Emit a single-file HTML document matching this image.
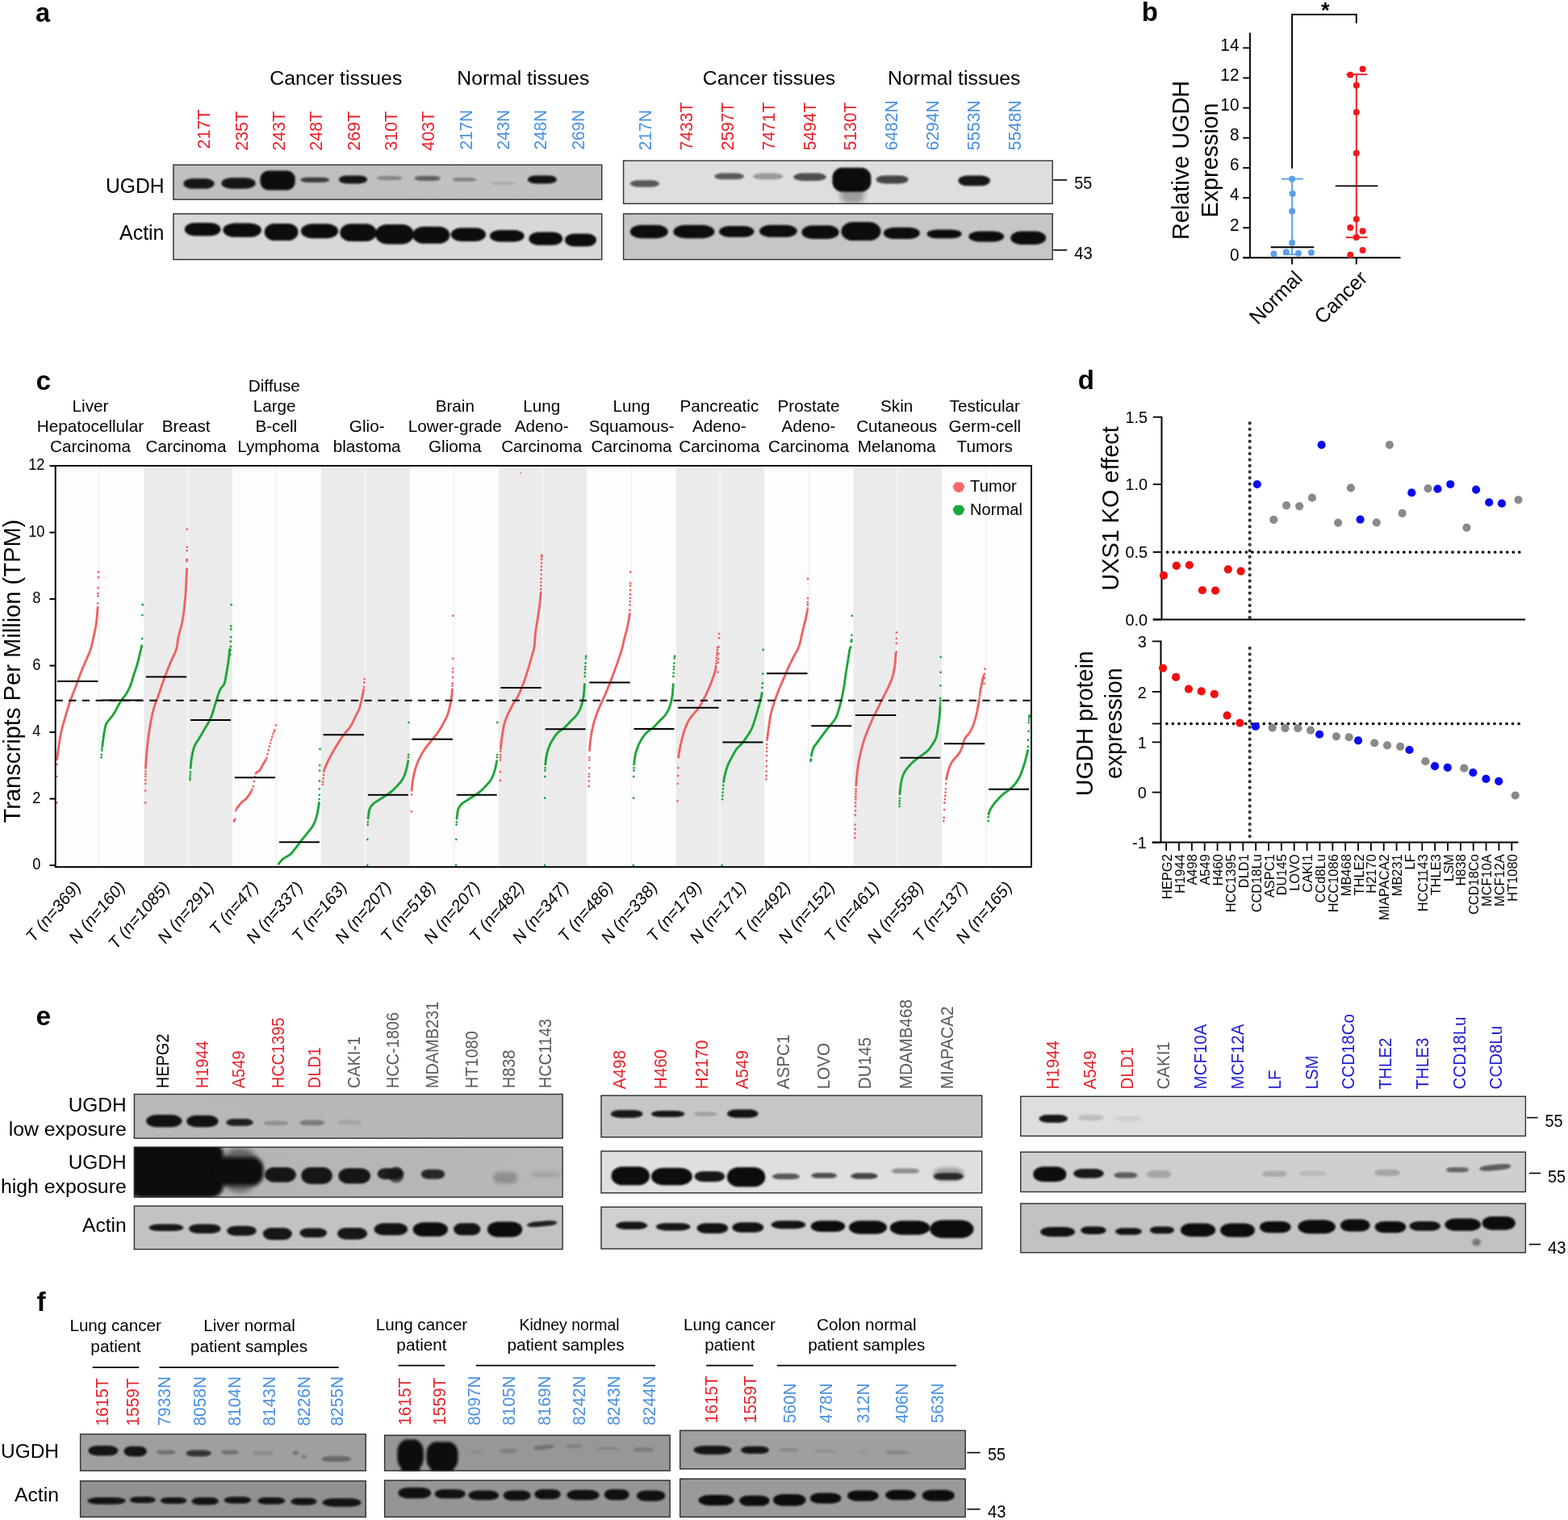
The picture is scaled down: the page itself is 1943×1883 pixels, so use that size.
<!DOCTYPE html>
<html lang="en"><head><meta charset="utf-8"><title>UGDH expression in cancer and normal tissues</title>
<style>html,body{margin:0;padding:0;background:#fff}body{width:1943px;height:1883px;overflow:hidden}svg{display:block}text{font-family:"Liberation Sans",sans-serif}</style>
</head><body>
<svg width="1943" height="1883" viewBox="0 0 1943 1883">
<defs><clipPath id="c1"><rect x="214.4" y="203.8" width="531.8" height="43.8"/></clipPath><linearGradient id="g2" x1="0" x2="1" y1="0" y2="0"><stop offset="0" stop-color="#bfbfbf"/><stop offset="1" stop-color="#c1c1c1"/></linearGradient><clipPath id="c3"><rect x="214.4" y="264.4" width="531.8" height="57.6"/></clipPath><clipPath id="c4"><rect x="772.1" y="198.6" width="532.6" height="54.2"/></clipPath><clipPath id="c5"><rect x="772.1" y="264.4" width="532.6" height="57.6"/></clipPath><clipPath id="c6"><rect x="165.9" y="1355" width="531.7" height="55.6"/></clipPath><linearGradient id="g7" x1="0" x2="1" y1="0" y2="0"><stop offset="0" stop-color="#b8b8b8"/><stop offset="1" stop-color="#b6b6b6"/></linearGradient><clipPath id="c8"><rect x="165.9" y="1420.7" width="531.7" height="62.8"/></clipPath><linearGradient id="g9" x1="0" x2="1" y1="0" y2="0"><stop offset="0" stop-color="#b4b4b4"/><stop offset="1" stop-color="#b8b8b8"/></linearGradient><clipPath id="c10"><rect x="165.9" y="1493.6" width="531.7" height="54.5"/></clipPath><clipPath id="c11"><rect x="744.5" y="1356.7" width="472.7" height="52.5"/></clipPath><clipPath id="c12"><rect x="744.5" y="1425.6" width="472.7" height="52.7"/></clipPath><clipPath id="c13"><rect x="744.5" y="1494.8" width="472.7" height="52.7"/></clipPath><clipPath id="c14"><rect x="1264.3" y="1357.8" width="626.6" height="50"/></clipPath><clipPath id="c15"><rect x="1264.3" y="1426.7" width="626.6" height="50.3"/></clipPath><clipPath id="c16"><rect x="1264.3" y="1490.5" width="626.6" height="61.7"/></clipPath><clipPath id="c17"><rect x="99.1" y="1776.1" width="354.6" height="46.3"/></clipPath><clipPath id="c18"><rect x="99.1" y="1834.1" width="354.6" height="45.7"/></clipPath><clipPath id="c19"><rect x="476.1" y="1777.6" width="354.5" height="44.8"/></clipPath><clipPath id="c20"><rect x="476.1" y="1833.5" width="354.5" height="46.3"/></clipPath><clipPath id="c21"><rect x="842.2" y="1771.7" width="354.5" height="48.5"/></clipPath><clipPath id="c22"><rect x="842.2" y="1831.6" width="354.5" height="48.2"/></clipPath><filter id="b1_1" x="-30%" y="-60%" width="160%" height="220%"><feGaussianBlur stdDeviation="1.1"/></filter><filter id="b1_5" x="-30%" y="-60%" width="160%" height="220%"><feGaussianBlur stdDeviation="1.5"/></filter><filter id="b1_8" x="-30%" y="-60%" width="160%" height="220%"><feGaussianBlur stdDeviation="1.8"/></filter><filter id="b2" x="-30%" y="-60%" width="160%" height="220%"><feGaussianBlur stdDeviation="2"/></filter><filter id="b2_2" x="-30%" y="-60%" width="160%" height="220%"><feGaussianBlur stdDeviation="2.2"/></filter><filter id="b2_5" x="-30%" y="-60%" width="160%" height="220%"><feGaussianBlur stdDeviation="2.5"/></filter><filter id="b3" x="-30%" y="-60%" width="160%" height="220%"><feGaussianBlur stdDeviation="3"/></filter></defs>
<rect width="1943" height="1883" fill="#fff"/>
<g id="panel-a">
<text x="44" y="26.8" font-size="32.5" font-weight="bold">a</text>
<text x="334.3" y="105.2" font-size="24.6" textLength="164" lengthAdjust="spacingAndGlyphs">Cancer tissues</text>
<text x="566.3" y="105.2" font-size="24.6" textLength="164" lengthAdjust="spacingAndGlyphs">Normal tissues</text>
<text x="870.75" y="105.2" font-size="24.6" textLength="164.5" lengthAdjust="spacingAndGlyphs">Cancer tissues</text>
<text x="1100.05" y="105.2" font-size="24.6" textLength="164.5" lengthAdjust="spacingAndGlyphs">Normal tissues</text>
<text transform="translate(260.4 184.5) rotate(-90)" font-size="22.4" fill="#e8212b" textLength="49.02" lengthAdjust="spacingAndGlyphs">217T</text>
<text transform="translate(306.72 186.8) rotate(-90)" font-size="22.4" fill="#e8212b" textLength="49.02" lengthAdjust="spacingAndGlyphs">235T</text>
<text transform="translate(353.04 186.8) rotate(-90)" font-size="22.4" fill="#e8212b" textLength="49.02" lengthAdjust="spacingAndGlyphs">243T</text>
<text transform="translate(399.36 186.8) rotate(-90)" font-size="22.4" fill="#e8212b" textLength="49.02" lengthAdjust="spacingAndGlyphs">248T</text>
<text transform="translate(445.68 186.8) rotate(-90)" font-size="22.4" fill="#e8212b" textLength="49.02" lengthAdjust="spacingAndGlyphs">269T</text>
<text transform="translate(492 186.8) rotate(-90)" font-size="22.4" fill="#e8212b" textLength="49.02" lengthAdjust="spacingAndGlyphs">310T</text>
<text transform="translate(538.32 186.8) rotate(-90)" font-size="22.4" fill="#e8212b" textLength="49.02" lengthAdjust="spacingAndGlyphs">403T</text>
<text transform="translate(584.64 185.6) rotate(-90)" font-size="22.4" fill="#4a90e2" textLength="49.54" lengthAdjust="spacingAndGlyphs">217N</text>
<text transform="translate(630.96 185.6) rotate(-90)" font-size="22.4" fill="#4a90e2" textLength="49.54" lengthAdjust="spacingAndGlyphs">243N</text>
<text transform="translate(677.28 185.6) rotate(-90)" font-size="22.4" fill="#4a90e2" textLength="49.54" lengthAdjust="spacingAndGlyphs">248N</text>
<text transform="translate(723.6 185.6) rotate(-90)" font-size="22.4" fill="#4a90e2" textLength="49.54" lengthAdjust="spacingAndGlyphs">269N</text>
<text transform="translate(806.7 186.2) rotate(-90)" font-size="22.4" fill="#4a90e2" textLength="50.07" lengthAdjust="spacingAndGlyphs">217N</text>
<text transform="translate(857.65 186.2) rotate(-90)" font-size="22.4" fill="#e8212b" textLength="59.39" lengthAdjust="spacingAndGlyphs">7433T</text>
<text transform="translate(908.6 186.2) rotate(-90)" font-size="22.4" fill="#e8212b" textLength="59.39" lengthAdjust="spacingAndGlyphs">2597T</text>
<text transform="translate(959.55 186.2) rotate(-90)" font-size="22.4" fill="#e8212b" textLength="59.39" lengthAdjust="spacingAndGlyphs">7471T</text>
<text transform="translate(1010.5 186.2) rotate(-90)" font-size="22.4" fill="#e8212b" textLength="59.39" lengthAdjust="spacingAndGlyphs">5494T</text>
<text transform="translate(1061.45 186.2) rotate(-90)" font-size="22.4" fill="#e8212b" textLength="59.39" lengthAdjust="spacingAndGlyphs">5130T</text>
<text transform="translate(1112.4 186.2) rotate(-90)" font-size="22.4" fill="#4a90e2" textLength="61.72" lengthAdjust="spacingAndGlyphs">6482N</text>
<text transform="translate(1163.35 186.2) rotate(-90)" font-size="22.4" fill="#4a90e2" textLength="61.72" lengthAdjust="spacingAndGlyphs">6294N</text>
<text transform="translate(1214.3 186.2) rotate(-90)" font-size="22.4" fill="#4a90e2" textLength="61.72" lengthAdjust="spacingAndGlyphs">5553N</text>
<text transform="translate(1265.25 186.2) rotate(-90)" font-size="22.4" fill="#4a90e2" textLength="61.72" lengthAdjust="spacingAndGlyphs">5548N</text>
<text x="131" y="238.8" font-size="25.5" textLength="72.5" lengthAdjust="spacingAndGlyphs">UGDH</text>
<text x="148" y="297.3" font-size="25.5" textLength="55.5" lengthAdjust="spacingAndGlyphs">Actin</text>
<rect x="214.4" y="203.8" width="531.8" height="43.8" fill="url(#g2)"/>
<g clip-path="url(#c1)">
<g filter="url(#b1_1)">
<rect x="227.38" y="221.13" width="38.33" height="12.68" rx="11.5" ry="6.34" fill="#0a0a0a" opacity="0.95"/>
<rect x="274.36" y="220.26" width="42.37" height="13.55" rx="12.71" ry="6.77" fill="#0a0a0a" opacity="0.95"/>
<rect x="322.49" y="211.62" width="43.23" height="23.92" rx="10" ry="10" fill="#0a0a0a"/>
<rect x="372.35" y="219.69" width="35.74" height="6.34" rx="10.72" ry="3.17" fill="#0a0a0a" opacity="0.75"/>
<rect x="419.91" y="217.38" width="35.16" height="10.09" rx="10.55" ry="5.04" fill="#0a0a0a" opacity="0.95"/>
<rect x="466.6" y="217.96" width="31.7" height="5.19" rx="9.51" ry="2.59" fill="#0a0a0a" opacity="0.3"/>
<rect x="513.58" y="217.96" width="32.28" height="6.05" rx="9.68" ry="3.03" fill="#0a0a0a" opacity="0.5"/>
<rect x="560.27" y="220.26" width="30.26" height="4.32" rx="9.08" ry="2.16" fill="#0a0a0a" opacity="0.35"/>
<rect x="607.82" y="225.16" width="31.7" height="3.75" rx="9.51" ry="1.87" fill="#0a0a0a" opacity="0.12"/>
<rect x="653.94" y="217.38" width="36.03" height="10.09" rx="10.81" ry="5.04" fill="#0a0a0a" opacity="0.97"/>
</g>
</g>
<rect x="214.9" y="204.3" width="530.8" height="42.8" fill="none" stroke="#303030" stroke-width="1.4"/>
<rect x="214.4" y="264.4" width="531.8" height="57.6" fill="#d8d8d8"/>
<g clip-path="url(#c3)">
<g filter="url(#b1_1)">
<rect x="228.82" y="275.89" width="44.67" height="16.43" rx="13.4" ry="8.21" fill="#0a0a0a"/>
<rect x="276.38" y="276.46" width="47.56" height="17.29" rx="14.27" ry="8.65" fill="#0a0a0a"/>
<rect x="327.68" y="277.04" width="41.79" height="21.04" rx="12.54" ry="10.52" fill="#0a0a0a"/>
<rect x="372.93" y="277.33" width="46.11" height="17.87" rx="13.83" ry="8.93" fill="#0a0a0a"/>
<rect x="421.35" y="277.33" width="45.25" height="21.62" rx="13.57" ry="10.81" fill="#0a0a0a"/>
<rect x="465.16" y="277.91" width="47.56" height="24.5" rx="14.27" ry="12.25" fill="#0a0a0a"/>
<rect x="511.27" y="280.79" width="46.11" height="21.04" rx="13.83" ry="10.52" fill="#0a0a0a"/>
<rect x="558.83" y="282.23" width="43.23" height="16.72" rx="12.97" ry="8.36" fill="#0a0a0a"/>
<rect x="606.96" y="285.11" width="42.66" height="14.41" rx="12.8" ry="7.21" fill="#0a0a0a"/>
<rect x="655.38" y="287.42" width="41.79" height="16.43" rx="12.54" ry="8.21" fill="#0a0a0a"/>
<rect x="700.05" y="289.43" width="38.91" height="15.85" rx="11.67" ry="7.93" fill="#0a0a0a"/>
</g>
</g>
<rect x="214.9" y="264.9" width="530.8" height="56.6" fill="none" stroke="#303030" stroke-width="1.4"/>
<rect x="772.1" y="198.6" width="532.6" height="54.2" fill="#dedede"/>
<g clip-path="url(#c4)">
<g filter="url(#b1_1)">
<rect x="780.75" y="223.14" width="36.31" height="8.65" rx="10.89" ry="4.32" fill="#0a0a0a" opacity="0.6"/>
<rect x="885.37" y="214.5" width="36.6" height="7.78" rx="10.98" ry="3.89" fill="#0a0a0a" opacity="0.65"/>
<rect x="932.93" y="214.5" width="37.47" height="7.78" rx="11.24" ry="3.89" fill="#0a0a0a" opacity="0.3"/>
<rect x="983.37" y="214.5" width="40.35" height="9.51" rx="12.1" ry="4.76" fill="#0a0a0a" opacity="0.7"/>
<rect x="1031.5" y="207.87" width="47.84" height="29.69" rx="12" ry="12" fill="#0a0a0a"/>
<rect x="1085.68" y="217.38" width="39.77" height="10.09" rx="11.93" ry="5.04" fill="#0a0a0a" opacity="0.75"/>
<rect x="1187.42" y="217.38" width="39.49" height="12.97" rx="11.85" ry="6.48" fill="#0a0a0a" opacity="0.95"/>
</g>
<g filter="url(#b3)">
<rect x="1041.01" y="230.35" width="30.26" height="21.62" rx="10.81" ry="10.81" fill="#0a0a0a" opacity="0.3"/>
</g>
</g>
<rect x="772.6" y="199.1" width="531.6" height="53.2" fill="none" stroke="#303030" stroke-width="1.4"/>
<rect x="772.1" y="264.4" width="532.6" height="57.6" fill="#c6c6c6"/>
<g clip-path="url(#c5)">
<g filter="url(#b1_1)">
<rect x="780.75" y="278.77" width="46.98" height="16.43" rx="14.09" ry="8.21" fill="#0a0a0a"/>
<rect x="834.36" y="278.77" width="51.01" height="16.43" rx="15.3" ry="8.21" fill="#0a0a0a"/>
<rect x="891.14" y="279.92" width="43.23" height="13.83" rx="12.97" ry="6.92" fill="#0a0a0a"/>
<rect x="941" y="278.77" width="46.69" height="14.99" rx="14.01" ry="7.49" fill="#0a0a0a"/>
<rect x="993.45" y="279.35" width="46.11" height="16.72" rx="13.83" ry="8.36" fill="#0a0a0a"/>
<rect x="1042.45" y="275.02" width="49" height="23.06" rx="14.7" ry="11.53" fill="#0a0a0a"/>
<rect x="1094.9" y="281.65" width="44.96" height="14.41" rx="13.49" ry="7.21" fill="#0a0a0a"/>
<rect x="1148.51" y="284.53" width="43.23" height="10.66" rx="12.97" ry="5.33" fill="#0a0a0a"/>
<rect x="1200.39" y="286.55" width="43.81" height="12.97" rx="13.14" ry="6.48" fill="#0a0a0a"/>
<rect x="1252.27" y="286.55" width="43.81" height="16.43" rx="13.14" ry="8.21" fill="#0a0a0a"/>
</g>
</g>
<rect x="772.6" y="264.9" width="531.6" height="56.6" fill="none" stroke="#303030" stroke-width="1.4"/>
<line x1="1305.2" y1="223" x2="1322.2" y2="223" stroke="#000" stroke-width="1.6"/>
<text x="1331.2" y="234.2" font-size="21.5" textLength="22" lengthAdjust="spacingAndGlyphs">55</text>
<line x1="1305.2" y1="309.8" x2="1322.2" y2="309.8" stroke="#000" stroke-width="1.6"/>
<text x="1331.2" y="320.8" font-size="21.5" textLength="22.5" lengthAdjust="spacingAndGlyphs">43</text>
</g>
<g id="panel-b">
<text x="1414.8" y="26" font-size="33" font-weight="bold">b</text>
<path d="M1601.09 208.63 V17.97 H1680.77 V28.98" fill="none" stroke="#000" stroke-width="1.9"/>
<text x="1636.98" y="22.07" font-size="27" font-weight="bold">*</text>
<line x1="1548.93" y1="40.57" x2="1548.93" y2="320.11" stroke="#000" stroke-width="1.9"/>
<line x1="1540.24" y1="319.31" x2="1735.53" y2="319.31" stroke="#000" stroke-width="1.9"/>
<line x1="1540.24" y1="319.31" x2="1548.93" y2="319.31" stroke="#000" stroke-width="1.9"/>
<text x="1523.89" y="322.71" font-size="21.2" textLength="11.56" lengthAdjust="spacingAndGlyphs">0</text>
<line x1="1540.24" y1="282.18" x2="1548.93" y2="282.18" stroke="#000" stroke-width="1.9"/>
<text x="1523.89" y="285.58" font-size="21.2" textLength="11.56" lengthAdjust="spacingAndGlyphs">2</text>
<line x1="1540.24" y1="245.05" x2="1548.93" y2="245.05" stroke="#000" stroke-width="1.9"/>
<text x="1523.89" y="248.45" font-size="21.2" textLength="11.56" lengthAdjust="spacingAndGlyphs">4</text>
<line x1="1540.24" y1="207.92" x2="1548.93" y2="207.92" stroke="#000" stroke-width="1.9"/>
<text x="1523.89" y="211.32" font-size="21.2" textLength="11.56" lengthAdjust="spacingAndGlyphs">6</text>
<line x1="1540.24" y1="170.78" x2="1548.93" y2="170.78" stroke="#000" stroke-width="1.9"/>
<text x="1523.89" y="174.18" font-size="21.2" textLength="11.56" lengthAdjust="spacingAndGlyphs">8</text>
<line x1="1540.24" y1="133.65" x2="1548.93" y2="133.65" stroke="#000" stroke-width="1.9"/>
<text x="1512.34" y="137.05" font-size="21.2" textLength="23.11" lengthAdjust="spacingAndGlyphs">10</text>
<line x1="1540.24" y1="96.52" x2="1548.93" y2="96.52" stroke="#000" stroke-width="1.9"/>
<text x="1512.34" y="99.92" font-size="21.2" textLength="23.11" lengthAdjust="spacingAndGlyphs">12</text>
<line x1="1540.24" y1="59.39" x2="1548.93" y2="59.39" stroke="#000" stroke-width="1.9"/>
<text x="1512.34" y="62.79" font-size="21.2" textLength="23.11" lengthAdjust="spacingAndGlyphs">14</text>
<line x1="1601.09" y1="319.31" x2="1601.09" y2="327.43" stroke="#000" stroke-width="1.9"/>
<line x1="1680.77" y1="319.31" x2="1680.77" y2="327.43" stroke="#000" stroke-width="1.9"/>
<text transform="translate(1473.3 198.48) rotate(-90)" x="-98.5" font-size="30.3" textLength="197" lengthAdjust="spacingAndGlyphs">Relative UGDH</text>
<text transform="translate(1508.94 198.48) rotate(-90)" x="-71" font-size="30.3" textLength="142" lengthAdjust="spacingAndGlyphs">Expression</text>
<line x1="1601.09" y1="221.66" x2="1601.09" y2="315.26" stroke="#5b9fe8" stroke-width="1.9"/>
<line x1="1588.05" y1="221.66" x2="1614.7" y2="221.66" stroke="#5b9fe8" stroke-width="1.9"/>
<line x1="1590.07" y1="315.26" x2="1611.81" y2="315.26" stroke="#5b9fe8" stroke-width="1.9"/>
<circle cx="1601.09" cy="221.66" r="4" fill="#5b9fe8"/>
<circle cx="1601.66" cy="239.92" r="4" fill="#5b9fe8"/>
<circle cx="1601.09" cy="261.65" r="4" fill="#5b9fe8"/>
<circle cx="1601.09" cy="300.77" r="4" fill="#5b9fe8"/>
<circle cx="1578.48" cy="314.39" r="4" fill="#5b9fe8"/>
<circle cx="1593.84" cy="312.36" r="4" fill="#5b9fe8"/>
<circle cx="1608.91" cy="313.81" r="4" fill="#5b9fe8"/>
<circle cx="1624.85" cy="312.94" r="4" fill="#5b9fe8"/>
<line x1="1574.72" y1="306.27" x2="1628.32" y2="306.27" stroke="#000" stroke-width="1.9"/>
<line x1="1680.77" y1="92.14" x2="1680.77" y2="294.1" stroke="#ef1a1f" stroke-width="1.9"/>
<line x1="1668.31" y1="92.14" x2="1694.39" y2="92.14" stroke="#ef1a1f" stroke-width="1.9"/>
<line x1="1667.73" y1="294.1" x2="1694.39" y2="294.1" stroke="#ef1a1f" stroke-width="1.9"/>
<circle cx="1673.24" cy="92.72" r="4" fill="#ef1a1f"/>
<circle cx="1688.59" cy="85.48" r="4" fill="#ef1a1f"/>
<circle cx="1680.77" cy="105.76" r="4" fill="#ef1a1f"/>
<circle cx="1680.77" cy="139.08" r="4" fill="#ef1a1f"/>
<circle cx="1680.77" cy="189.79" r="4" fill="#ef1a1f"/>
<circle cx="1680.77" cy="271.5" r="4" fill="#ef1a1f"/>
<circle cx="1673.24" cy="281.93" r="4" fill="#ef1a1f"/>
<circle cx="1688.59" cy="286.28" r="4" fill="#ef1a1f"/>
<circle cx="1680.77" cy="294.1" r="4" fill="#ef1a1f"/>
<circle cx="1688.59" cy="310.04" r="4" fill="#ef1a1f"/>
<circle cx="1673.24" cy="315.84" r="4" fill="#ef1a1f"/>
<line x1="1654.69" y1="230.36" x2="1707.43" y2="230.36" stroke="#000" stroke-width="1.9"/>
<text transform="translate(1615.32 346.41) rotate(-45)" x="-80.31" font-size="25.3" textLength="80.31" lengthAdjust="spacingAndGlyphs">Normal</text>
<text transform="translate(1695.79 346.01) rotate(-45)" x="-80.34" font-size="25.3" textLength="80.34" lengthAdjust="spacingAndGlyphs">Cancer</text>
</g>
<g id="panel-c">
<text x="44.5" y="482.7" font-size="33.5" font-weight="bold">c</text>
<rect x="68.3" y="577" width="109.9" height="497" fill="#fdfdfd"/>
<rect x="121.5" y="577" width="2.6" height="497" fill="#f4f4f4"/>
<rect x="178.2" y="577" width="109.9" height="497" fill="#ebebeb"/>
<rect x="231.4" y="577" width="2.6" height="497" fill="#f3f3f3"/>
<rect x="288.1" y="577" width="109.9" height="497" fill="#fdfdfd"/>
<rect x="341.3" y="577" width="2.6" height="497" fill="#f4f4f4"/>
<rect x="398" y="577" width="109.9" height="497" fill="#ebebeb"/>
<rect x="451.2" y="577" width="2.6" height="497" fill="#f3f3f3"/>
<rect x="507.9" y="577" width="109.9" height="497" fill="#fdfdfd"/>
<rect x="561.1" y="577" width="2.6" height="497" fill="#f4f4f4"/>
<rect x="617.8" y="577" width="109.9" height="497" fill="#ebebeb"/>
<rect x="671" y="577" width="2.6" height="497" fill="#f3f3f3"/>
<rect x="727.7" y="577" width="109.9" height="497" fill="#fdfdfd"/>
<rect x="780.9" y="577" width="2.6" height="497" fill="#f4f4f4"/>
<rect x="837.6" y="577" width="109.9" height="497" fill="#ebebeb"/>
<rect x="890.8" y="577" width="2.6" height="497" fill="#f3f3f3"/>
<rect x="947.5" y="577" width="109.9" height="497" fill="#fdfdfd"/>
<rect x="1000.7" y="577" width="2.6" height="497" fill="#f4f4f4"/>
<rect x="1057.4" y="577" width="109.9" height="497" fill="#ebebeb"/>
<rect x="1110.6" y="577" width="2.6" height="497" fill="#f3f3f3"/>
<rect x="1167.3" y="577" width="109.9" height="497" fill="#fdfdfd"/>
<rect x="1220.5" y="577" width="2.6" height="497" fill="#f4f4f4"/>
<path d="M70.7 940.5L70.9 939.3L71 938.2L71.1 937.1L71.3 935.9L71.4 934.8L71.6 933.7L71.7 932.6L71.8 931.6L72 930.5L72.1 929.5L72.3 928.5L72.5 926.5L72.8 924.6L73.1 922.7L73.4 920.8L73.7 918.9L73.9 917.1L74.2 915.3L74.5 913.6L74.8 912L75.1 910.5L75.3 909L75.6 907.7L75.9 906.4L76.2 905.2L76.5 904L76.8 902.8L77 901.7L77.3 900.6L77.6 899.6L77.9 898.6L78.2 897.6L78.4 896.6L78.7 895.6L79.1 894.2L79.6 892.8L80 891.4L80.4 890L80.7 889L81 888L81.2 887.1L81.5 886.1L81.8 885.1L82.1 884.2L82.4 883.2L82.8 881.8L83.2 880.3L83.6 878.9L84 877.5L84.5 876.2L84.9 874.8L85.3 873.5L85.7 872.1L86.1 870.9L86.6 869.6L87 868.4L87.4 867.2L87.8 866L88.2 864.9L88.7 863.8L89.1 862.7L89.5 861.6L89.9 860.5L90.4 859.5L90.8 858.5L91.2 857.4L91.6 856.4L92 855.3L92.5 854.3L92.9 853.2L93.3 852.1L93.7 851L94.1 849.8L94.6 848.7L95 847.5L95.4 846.3L95.8 845.1L96.2 843.9L96.7 842.8L97.1 841.6L97.5 840.4L97.9 839.2L98.3 838.1L98.8 837L99.2 835.8L99.6 834.7L100 833.7L100.4 832.6L100.9 831.6L101.3 830.5L101.7 829.5L102.1 828.5L102.6 827.5L103 826.5L103.4 825.5L103.8 824.5L104.2 823.5L104.7 822.6L105.1 821.6L105.5 820.6L105.9 819.6L106.3 818.6L106.8 817.6L107.2 816.7L107.6 815.7L108 814.8L108.4 813.9L108.9 813L109.3 812L109.7 811.1L110.1 810.1L110.5 809.1L111 808L111.4 806.8L111.8 805.7L112.2 804.4L112.6 803L112.9 802.1L113.2 801.1L113.5 800L113.8 798.9L114 797.8L114.3 796.6L114.6 795.4L114.9 794.2L115.2 792.9L115.5 791.6L115.7 790.3L116 789L116.3 787.7L116.6 786.4L116.9 785.1L117.1 783.8L117.4 782.5L117.7 781.2L118 779.8L118.3 778.3L118.5 776.8L118.8 775.1L119.1 773.3L119.4 771.3L119.5 770.3L119.7 769.2L119.8 767.9L119.9 766.5L120.1 765L120.2 763.4L120.4 761.7L120.5 760L120.6 758.1L120.8 756.2L120.9 754.3L121.1 752.4" fill="none" stroke="#ee6363" stroke-width="2.9" stroke-linecap="round" stroke-linejoin="round"/>
<path d="M70.3 994.5h0M70.4 962.1h0M70.6 947h0M121.2 747.6h0M121.3 738.4h0M121.5 735.1h0M121.6 728.2h0M121.8 715.2h0M121.9 708.7h0" fill="none" stroke="#ee6363" stroke-width="2.8" stroke-linecap="round"/>
<path d="M126.8 924.3L127.1 921.7L127.4 919.2L127.8 916.7L128.1 914.3L128.4 912L128.7 910L129 908.1L129.4 906.2L129.7 904.4L130 902.7L130.3 901.2L130.7 899.7L131 898.5L131.3 897.6L131.9 896.2L132.6 895.3L133.2 894.4L133.9 893.5L134.5 892.7L135.2 891.8L135.8 891L136.4 890.2L137.1 889.4L137.7 888.6L138.4 887.8L139 887L139.7 886.1L140.3 885.2L141 884.2L141.6 883.2L142.2 882.1L142.9 881L143.5 879.8L144.2 878.6L144.8 877.4L145.5 876.1L146.1 874.9L146.8 873.7L147.4 872.5L148 871.3L148.7 870.2L149.3 869.2L150 868.3L150.6 867.4L151.3 866.5L151.9 865.7L152.5 864.8L153.2 864L153.8 863.2L154.5 862.3L155.1 861.4L155.8 860.4L156.4 859.4L157.1 858.3L157.7 857.2L158.3 856.1L159 854.9L159.6 853.7L160.3 852.3L160.9 850.9L161.6 849.3L162.2 847.5L162.5 846.6L162.9 845.6L163.2 844.6L163.5 843.5L163.8 842.5L164.1 841.4L164.5 840.3L164.8 839.3L165.1 838.2L165.4 837.2L165.8 836.1L166.1 835.1L166.4 834.1L166.7 833.1L167 832.2L167.7 830.3L168.3 828.4L168.6 827.4L169 826.5L169.3 825.5L169.6 824.5L169.9 823.4L170.3 822.3L170.6 821.2L170.9 820L171.2 818.7L171.5 817.4L171.9 816.1L172.2 814.7L172.5 813.3L172.8 812L173.2 810.6L173.5 809.2L173.8 807.9L174.1 806.6L174.4 805.3L174.8 803.9L175.1 802.6L175.4 801.3L175.7 800" fill="none" stroke="#1da53a" stroke-width="2.9" stroke-linecap="round" stroke-linejoin="round"/>
<path d="M125.5 938.3h0M125.8 935.1h0M126.1 929.7h0M126.5 927h0M176.1 791.3h0M176.4 762.1h0M176.7 749.2h0" fill="none" stroke="#1da53a" stroke-width="2.8" stroke-linecap="round"/>
<path d="M180.5 951.3L180.6 949.7L180.7 948.2L180.8 946.6L180.9 945.1L181 943.6L181.1 942.1L181.2 940.6L181.3 939.2L181.4 937.8L181.5 936.4L181.6 935.1L181.7 933.8L181.8 932.6L181.9 931.5L182 930.4L182.1 929.3L182.2 928.3L182.3 926.8L182.4 925.4L182.6 924L182.7 922.6L182.9 921.3L183 920L183.2 918.8L183.3 917.5L183.4 916.4L183.6 915.2L183.7 914.1L183.9 913L184 911.9L184.2 910.9L184.3 909.8L184.4 908.8L184.6 907.5L184.8 906.3L185 905L185.2 903.8L185.4 902.7L185.6 901.5L185.8 900.4L186 899.2L186.2 898.1L186.3 897.1L186.5 896L186.7 894.9L186.9 893.9L187.1 892.9L187.3 891.9L187.5 890.7L187.8 889.5L188 888.4L188.2 887.2L188.5 886.1L188.7 885.1L189 884L189.2 883L189.4 882L189.7 880.9L190 879.8L190.3 878.7L190.6 877.6L190.9 876.6L191.2 875.5L191.5 874.5L191.9 873.5L192.2 872.5L192.6 871.4L193 870.4L193.3 869.4L193.7 868.4L194.1 867.4L194.5 866.4L194.9 865.4L195.2 864.4L195.6 863.3L196 862.4L196.3 861.4L196.6 860.4L197 859.4L197.3 858.5L197.6 857.5L198 856.5L198.3 855.5L198.6 854.5L199 853.5L199.3 852.5L199.6 851.6L200 850.6L200.3 849.6L200.6 848.6L201 847.6L201.3 846.7L201.6 845.7L202 844.8L202.3 843.7L202.7 842.6L203.1 841.6L203.5 840.5L203.9 839.5L204.2 838.5L204.6 837.5L205 836.5L205.4 835.5L205.8 834.5L206.1 833.6L206.5 832.6L206.9 831.6L207.3 830.7L207.7 829.7L208 828.8L208.4 827.8L208.8 826.9L209.2 825.9L209.6 825L210 824L210.3 823.1L210.7 822.1L211.1 821.2L211.5 820.2L211.9 819.3L212.3 818.3L212.7 817.3L213.2 816.3L213.7 815.4L214.1 814.5L214.6 813.6L215.1 812.7L215.6 811.7L216 810.7L216.5 809.7L216.9 808.7L217.3 807.7L217.7 806.6L218 805.6L218.3 804.5L218.6 803.5L218.9 802.4L219.2 801.3L219.4 800L219.6 799L219.7 797.9L219.9 796.7L220 795.6L220.1 794.5L220.3 793.3L220.5 792.2L220.7 791.2L220.9 790L221.2 788.8L221.4 787.7L221.7 786.7L221.9 785.7L222.2 784.5L222.5 783.4L222.8 782.3L223 781.3L223.3 780.2L223.6 779.2L223.9 778.2L224.2 777.1L224.5 776L224.8 774.9L225 773.9L225.2 772.8L225.5 771.8L225.7 770.6L225.9 769.4L226.1 768.4L226.3 767.4L226.5 766.3L226.7 765.2L226.9 764L227.1 762.7L227.3 761.5L227.4 760.5L227.6 759.4L227.7 758.4L227.8 757.3L228 756.2L228.1 755L228.3 753.8L228.4 752.5L228.6 751.2L228.7 749.9L228.8 748.5L229 747.1L229.1 745.6L229.2 744.6L229.3 743.6L229.4 742.5L229.5 741.4L229.6 740.3L229.7 739.2L229.8 738L229.9 736.8L230 735.6L230.1 734.2L230.2 732.7L230.3 731.2L230.4 729.6L230.5 727.9L230.6 726.1L230.7 724.3L230.8 722.4L230.8 720.5L230.9 718.5L231 717.5L231 716.5L231.1 715.4L231.1 714.4L231.2 713.4L231.2 712.3L231.3 711.3L231.3 710.2L231.4 709.1L231.4 708.1L231.5 707L231.5 705.9L231.6 704.8M231.6 695.1L231.7 693" fill="none" stroke="#ee6363" stroke-width="2.9" stroke-linecap="round" stroke-linejoin="round"/>
<path d="M180.2 994.5h0M180.2 979.4h0M180.3 970.8h0M180.3 966.4h0M180.4 962.1h0M180.4 958.9h0M180.5 955.6h0M231.7 682.2h0M231.8 677.8h0M231.8 655.6h0" fill="none" stroke="#ee6363" stroke-width="2.8" stroke-linecap="round"/>
<path d="M236.1 951.3L236.3 949.5L236.5 947.7L236.6 945.9L236.8 944.2L237 942.6L237.2 941.1L237.3 939.8L237.5 938.6L237.7 937.6L237.9 936.6L238.2 934.7L238.6 932.9L238.9 931.3L239.3 929.9L239.6 928.6L240 927.4L240.3 926.3L240.7 925.3L241.2 924.1L241.8 922.9L242.3 921.9L242.8 920.9L243.3 920L244.1 918.9L244.8 917.9L245.5 916.9L246.2 915.8L246.7 914.9L247.2 914L247.8 913.1L248.3 912.2L248.8 911.3L249.3 910.4L249.9 909.5L250.4 908.6L250.9 907.6L251.5 906.7L252 905.8L252.5 904.9L253.1 903.9L253.6 903L254.1 902.1L254.6 901.2L255.2 900.3L255.7 899.5L256.2 898.6L256.8 897.7L257.3 896.8L257.8 895.9L258.4 895L258.9 894L259.4 893L259.9 892L260.5 890.9L261 889.7L261.5 888.5L262.1 887.2L262.4 886.2L262.8 885.2L263.1 884.2L263.5 883.1L263.8 882L264.2 880.8L264.5 879.7L264.9 878.5L265.2 877.3L265.6 876.1L265.9 874.9L266.3 873.7L266.6 872.5L267 871.4L267.4 870.3L267.7 869.2L268.1 868.1L268.4 867L268.8 865.9L269.1 864.7L269.5 863.6L269.8 862.5L270.2 861.3L270.5 860.2L270.9 859.2L271.2 858.1L271.6 857.2L272.1 855.8L272.7 854.6L273.2 853.6L273.9 852.5L274.6 851.6L275.3 850.8L276 850L276.7 849.1L277.4 847.9L277.9 846.9L278.5 845.4L278.8 844L279.2 842.3L279.5 840.5L279.7 839.4L279.9 838.4L280.1 837.3L280.2 836.3L280.4 835.2L280.6 834.1L280.8 833L281 831.9L281.1 830.9L281.3 829.9L281.5 828.9L281.7 827.9L281.8 826.8L282 825.8L282.2 824.8L282.4 823.7L282.5 822.6L282.7 821.5L282.9 820.3L283.1 819.1L283.2 817.8L283.4 816.4L283.6 814.7L283.8 812.6L284 810.5L284.1 808.5L284.3 806.7L284.5 805.3L284.8 804.3" fill="none" stroke="#1da53a" stroke-width="2.9" stroke-linecap="round" stroke-linejoin="round"/>
<path d="M235.4 966h0M235.6 963.2h0M235.8 960h0M235.9 956.7h0M285.4 810.8h0M285.5 805.4h0M285.7 801h0M285.9 794.6h0M286.1 789.2h0M286.2 779.4h0M286.4 775.7h0M286.6 749.2h0" fill="none" stroke="#1da53a" stroke-width="2.8" stroke-linecap="round"/>
<path d="M290.1 1017.2L291.2 1014.9M293.5 1001.5L294.6 1000L295.7 998.6L296.8 997L298 995.6L299.1 994.3L300.2 993.2L301.3 992.3L302.4 991.6L303.6 990.8L304.7 989.7L305.8 988.5L306.9 987.1L308 985.5L309.2 983.9L310.3 982.2L311.4 980.2M317 958.1L318.1 956.8L319.3 956.1L320.4 955.5L321.5 954.6L322.6 953.1L323.8 951.1L324.9 948.9L326 946.8L327.1 945L328.2 943.3L329.4 941.3" fill="none" stroke="#ee6363" stroke-width="2.9" stroke-linecap="round" stroke-linejoin="round"/>
<path d="M292.3 1004h0M312.5 977.6h0M313.7 974.1h0M314.8 967.9h0M315.9 962.2h0M330.5 938.6h0M331.6 934.1h0M332.7 929.4h0M333.8 924.8h0M335 920.6h0M336.1 916.6h0M337.2 913h0M338.3 909.6h0M339.5 906.7h0M340.6 904.3h0M341.7 898.4h0" fill="none" stroke="#ee6363" stroke-width="2.8" stroke-linecap="round"/>
<path d="M345.3 1070.2L346.1 1069.2L346.8 1068.3L347.6 1067.3L348.3 1066.5L349.1 1065.6L349.9 1064.8L350.6 1064.1L351.5 1063.4L352.5 1062.7L353.4 1062.2L354.3 1061.6L355.2 1061.2L356.1 1060.7L357 1060.2L357.9 1059.6L358.9 1059L359.8 1058.3L360.5 1057.6L361.3 1056.9L362.1 1056L362.8 1055.1L363.6 1054.2L364.3 1053.2L365.1 1052.2L365.9 1051.2L366.6 1050.3L367.4 1049.3L368 1048.5L368.6 1047.7L369.2 1046.8L369.8 1046L370.4 1045.2L371.1 1044.3L371.7 1043.5L372.3 1042.7L372.9 1041.9L373.6 1040.9L374.4 1040L375.2 1039L375.9 1038.1L376.7 1037.2L377.5 1036.2L378.2 1035.3L379 1034.3L379.7 1033.4L380.5 1032.4L381.3 1031.5L382 1030.5L382.8 1029.6L383.5 1028.7L384.3 1027.8L385.1 1026.8L385.7 1026L386.3 1025.2L386.9 1024.3L387.5 1023.3L388.1 1022.2L388.7 1021L389.2 1020.1L389.6 1019.1L390.1 1018L390.6 1016.8L391 1015.6L391.5 1014.2L391.8 1013.2L392.1 1012.2L392.4 1011.1L392.7 1009.9L393 1008.6L393.3 1007.1L393.6 1005.6L393.9 1003.9L394.2 1002.2L394.5 1000.3L394.8 998.5L395.1 996.5L395.4 994.5" fill="none" stroke="#1da53a" stroke-width="2.9" stroke-linecap="round" stroke-linejoin="round"/>
<path d="M395.6 990.2h0M395.7 984.8h0M395.9 977.3h0M396 967.5h0M396.2 954.6h0M396.3 948.1h0M396.5 928h0" fill="none" stroke="#1da53a" stroke-width="2.8" stroke-linecap="round"/>
<path d="M401.3 955.6L401.9 953.8L402.5 952L403.2 950.2L403.8 948.6L404.5 947.1L405.1 945.6L405.7 944.3L406.4 943L407 941.7L407.6 940.5L408.3 939.3L408.9 938.1L409.6 936.9L410.2 935.7L410.8 934.5L411.5 933.4L412.1 932.2L412.7 931.1L413.4 930L414 928.9L414.7 927.8L415.3 926.7L415.9 925.6L416.6 924.5L417.2 923.5L417.8 922.5L418.5 921.4L419.1 920.4L419.7 919.4L420.4 918.4L421 917.4L421.7 916.5L422.3 915.5L422.9 914.6L423.6 913.6L424.2 912.7L424.8 911.8L425.5 910.9L426.1 910L426.8 909.2L427.4 908.4L428.3 907.2L429.3 906.1L430.3 905L431.2 903.9L431.9 903.1L432.5 902.3L433.1 901.5L433.8 900.6L434.4 899.7L435 898.6L435.7 897.5L436.3 896.3L436.9 895L437.6 893.7L438.2 892.3L438.9 891L439.5 889.6L440.1 888.2L440.8 886.9L441.4 885.6L442 884.5L442.7 883.3L443.3 882.2L444 880.9L444.6 879.5L445.2 877.9L445.9 876L446.2 874.9L446.5 873.6L446.8 872.3L447.1 871L447.5 869.6L447.8 868.1L448.1 866.7L448.4 865.2L448.7 863.8L449.1 862.3L449.4 860.7L449.7 859.1L450 857.4L450.3 855.8L450.6 854" fill="none" stroke="#ee6363" stroke-width="2.9" stroke-linecap="round" stroke-linejoin="round"/>
<path d="M400 971.8h0M400.3 968.6h0M400.6 964.3h0M401 960h0M451 850.8h0M451.3 845.4h0M451.6 841.1h0" fill="none" stroke="#ee6363" stroke-width="2.8" stroke-linecap="round"/>
<path d="M456.2 1014L456.4 1011.8L456.7 1009.6L456.9 1007.6L457.2 1005.7L457.4 1004.3L457.7 1003.2L458.2 1001.9L458.7 1000.7L459.2 999.8L459.9 998.6L460.7 997.7L461.4 996.9L462.2 996.1L462.9 995.4L463.9 994.6L464.9 993.9L465.9 993.3L466.9 992.7L467.9 992.1L468.9 991.5L469.9 990.8L470.9 990.2L471.9 989.6L472.8 988.9L473.8 988.3L474.8 987.7L475.8 987.1L476.8 986.5L477.8 985.8L478.8 985.1L479.8 984.4L480.8 983.7L481.8 983L482.8 982.3L483.8 981.5L484.8 980.7L485.8 979.9L486.8 979L487.5 978.3L488.3 977.6L489 976.9L489.7 976.1L490.5 975.4L491.2 974.6L492 973.8L492.7 973L493.5 972.1L494.2 971.3L495 970.5L495.7 969.7L496.5 968.8L497.2 967.8L497.9 966.7L498.7 965.5L499.2 964.7L499.7 963.7L500.2 962.7L500.7 961.6L501.2 960.4L501.7 959.1L502.2 957.6L502.7 956L503.2 954.3L503.7 952.4L503.9 951.4L504.2 950.3L504.4 949.2L504.7 948L504.9 946.7L505.2 945.4L505.4 944.1L505.7 942.7" fill="none" stroke="#1da53a" stroke-width="2.9" stroke-linecap="round" stroke-linejoin="round"/>
<path d="M455.2 1071.9h0M455.4 1039.9h0M455.7 1021.6h0M455.9 1018.3h0M505.9 938.3h0M506.2 935.1h0M506.4 895.1h0" fill="none" stroke="#1da53a" stroke-width="2.8" stroke-linecap="round"/>
<path d="M510.1 979.4L510.2 977.3L510.4 975.5L510.6 973.7L510.8 972.1L511 970.4L511.2 968.9L511.4 967.4L511.6 966L511.8 964.8L512 963.7L512.2 962.7L512.4 961.6L512.7 960.2L513 958.9L513.3 957.6L513.6 956.4L513.9 955.3L514.2 954.2L514.5 953.2L514.8 952.2L515.2 950.9L515.6 949.7L516 948.5L516.4 947.4L516.8 946.4L517.2 945.4L517.6 944.4L518 943.4L518.4 942.5L518.9 941.4L519.4 940.3L519.9 939.3L520.4 938.3L520.9 937.3L521.4 936.3L521.9 935.4L522.4 934.5L522.9 933.6L523.5 932.6L524.1 931.6L524.7 930.6L525.3 929.7L525.9 928.8L526.5 927.9L527.1 927L527.7 926.1L528.3 925.3L529 924.4L529.7 923.5L530.4 922.6L531.1 921.7L531.8 920.9L532.5 920L533.2 919.2L533.9 918.3L534.6 917.5L535.3 916.6L535.9 915.7L536.6 914.8L537.3 914L538 913.1L538.7 912.3L539.4 911.4L540.1 910.6L540.8 909.7L541.5 908.8L542.2 907.8L542.8 907L543.4 906.2L544 905.3L544.6 904.3L545.2 903.4L545.8 902.4L546.4 901.4L547 900.4L547.5 899.5L548 898.6L548.5 897.7L549 896.8L549.5 895.9L550 894.9L550.5 894L551 893.1L551.5 892.2L552 891.2L552.5 890.2L553 889.2L553.5 888.1L553.9 887.1L554.3 886.1L554.7 885L555.1 883.8L555.5 882.5L555.8 881.5L556.1 880.4L556.4 879.3L556.7 878.2L557 877L557.3 875.8L557.6 874.5L557.9 873.2L558.2 871.9L558.5 870.4L558.7 869.4L558.9 868.3L559.1 867.1L559.3 865.8L559.5 864.4L559.7 862.8L559.9 860.8L560 859.8L560.1 858.7L560.2 857.6L560.3 856.4L560.4 855.2L560.5 854" fill="none" stroke="#ee6363" stroke-width="2.9" stroke-linecap="round" stroke-linejoin="round"/>
<path d="M509.9 1005.4h0M510 984.4h0M560.6 849.7h0M560.7 846.7h0M560.9 839.1h0M561 832.6h0M561.2 828.3h0M561.3 815.8h0M561.5 762.8h0" fill="none" stroke="#ee6363" stroke-width="2.8" stroke-linecap="round"/>
<path d="M566.1 1014L566.3 1011.8L566.6 1009.6L566.8 1007.6L567.1 1005.7L567.3 1004.3L567.6 1003.2L568.1 1001.9L568.6 1000.7L569.1 999.8L569.8 998.6L570.6 997.7L571.3 996.9L572.1 996.1L572.8 995.4L573.8 994.6L574.8 993.9L575.8 993.3L576.8 992.7L577.8 992.1L578.8 991.5L579.8 990.8L580.8 990.2L581.8 989.6L582.7 988.9L583.7 988.3L584.7 987.7L585.7 987.1L586.7 986.5L587.7 985.8L588.7 985.1L589.7 984.4L590.7 983.7L591.7 983L592.7 982.3L593.7 981.5L594.7 980.7L595.7 979.9L596.7 979L597.4 978.3L598.2 977.6L598.9 976.9L599.6 976.1L600.4 975.4L601.1 974.6L601.9 973.8L602.6 973L603.4 972.1L604.1 971.3L604.9 970.5L605.6 969.7L606.4 968.8L607.1 967.8L607.8 966.7L608.6 965.5L609.1 964.7L609.6 963.7L610.1 962.7L610.6 961.6L611.1 960.4L611.6 959.1L612.1 957.6L612.6 956L613.1 954.3L613.6 952.4L613.8 951.4L614.1 950.3L614.3 949.2L614.6 948L614.8 946.7L615.1 945.4L615.3 944.1L615.6 942.7" fill="none" stroke="#1da53a" stroke-width="2.9" stroke-linecap="round" stroke-linejoin="round"/>
<path d="M565.1 1071.9h0M565.3 1039.9h0M565.6 1021.6h0M565.8 1018.3h0M615.8 938.3h0M616.1 935.1h0M616.3 895.1h0" fill="none" stroke="#1da53a" stroke-width="2.8" stroke-linecap="round"/>
<path d="M620.4 927.5L620.6 926.5L620.7 925.4L620.8 924.4L620.9 923.4L621 922.4L621.2 920.4L621.4 918.5L621.6 916.7L621.8 914.9L622.1 913.3L622.3 911.7L622.5 910.2L622.7 908.8L622.9 907.3L623.1 905.9L623.3 904.6L623.6 903.3L623.8 902.2L624 901L624.2 900L624.5 898.7L624.8 897.4L625.2 896.3L625.5 895.2L625.8 894.1L626.1 893.1L626.6 891.9L627 890.7L627.4 889.6L627.8 888.5L628.3 887.4L628.7 886.4L629.1 885.4L629.6 884.4L630 883.4L630.4 882.5L631 881.4L631.5 880.3L632 879.3L632.6 878.2L633.1 877.2L633.6 876.3L634.2 875.3L634.7 874.3L635.2 873.3L635.8 872.4L636.3 871.5L636.9 870.6L637.4 869.8L638 868.8L638.7 867.8L639.2 866.9L639.8 866.1L640.3 865.2L640.8 864.2L641.4 863.2L641.9 862.2L642.4 861.1L643 860L643.4 859.1L643.8 858.1L644.3 857.2L644.7 856.2L645.1 855.2L645.5 854.1L646 853.1L646.4 852L646.8 850.9L647.3 849.8L647.7 848.7L648.1 847.6L648.6 846.5L649 845.3L649.4 844.1L649.8 842.9L650.3 841.7L650.7 840.4L651 839.5L651.3 838.5L651.7 837.5L652 836.5L652.3 835.5L652.6 834.5L652.9 833.5L653.3 832.5L653.6 831.5L653.9 830.4L654.2 829.4L654.6 828.4L654.9 827.3L655.2 826.3L655.5 825.2L655.8 824.1L656.2 823L656.5 821.9L656.8 820.8L657.1 819.6L657.5 818.5L657.8 817.3L658.1 816.2L658.4 815L658.7 813.8L659.1 812.6L659.4 811.5L659.7 810.5L660 809.5L660.4 808.5L660.7 807.4L661 806.2L661.3 804.9L661.5 803.9L661.7 802.8L662 801.6L662.2 800.3L662.4 798.4L662.5 797.1L662.6 795.7L662.7 794.1L662.8 792.4L662.9 790.8L663 789.3L663.1 787.9L663.2 786.6L663.4 785.6L663.6 783.7L663.8 782L664 780.4L664.2 778.9L664.4 777.4L664.6 776.1L664.9 774.7L665.1 773.5L665.3 772.2L665.5 771L665.7 769.7L665.9 768.4L666.1 767.1L666.4 765.8L666.6 764.3L666.8 762.9L667 761.5L667.2 760.1L667.4 758.7L667.6 757.2L667.9 755.8L668.1 754.3L668.3 752.7L668.5 751L668.7 749.3L668.9 747.5L669.1 745.5L669.3 744.5L669.4 743.4L669.5 742.3L669.6 741.2L669.7 740.1L669.8 739L669.9 737.8L670 736.7L670.1 735.5L670.2 734.3M671.3 690L671.4 687.8" fill="none" stroke="#ee6363" stroke-width="2.9" stroke-linecap="round" stroke-linejoin="round"/>
<path d="M619.8 966.9h0M619.9 956.1h0M620 941.6h0M620.1 938.3h0M620.2 935.1h0M620.3 930.8h0M670.3 730h0M670.4 725.6h0M670.5 721.3h0M670.6 717h0M670.8 711.6h0M670.9 706.2h0M671 701.9h0M671.1 697.5h0M671.2 693.2h0" fill="none" stroke="#ee6363" stroke-width="2.8" stroke-linecap="round"/>
<path d="M675.7 947L675.9 945.7L676 944.5L676.2 943.2L676.3 942L676.5 940.9L676.6 939.8L676.8 938.7L677.1 936.9L677.4 935.4L677.7 934.1L678 932.9L678.3 931.7L678.6 930.7L678.8 929.7L679.3 928.3L679.7 927L680.2 925.8L680.6 924.7L681.1 923.6L681.5 922.6L682 921.6L682.4 920.7L683 919.5L683.6 918.4L684.2 917.4L684.8 916.4L685.4 915.4L686 914.5L686.5 913.6L687.1 912.7L687.7 911.8L688.5 910.8L689.2 909.9L689.9 909L690.7 908.2L691.4 907.5L692.3 906.7L693.2 906L694.1 905.4L695 904.8L695.9 904.2L696.8 903.5L697.6 902.9L698.5 902.2L699.4 901.4L700.2 900.8L700.9 900L701.6 899.3L702.4 898.5L703.1 897.8L703.9 897L704.6 896.2L705.3 895.4L706.1 894.6L706.8 893.8L707.6 893L708.3 892.3L709 891.6L709.8 890.9L710.5 890.1L711.3 889.4L712 888.7L712.7 887.9L713.5 887L714.2 886.1L715 885.1L715.5 884.3L716.1 883.5L716.7 882.5L717.3 881.5L717.9 880.4L718.5 879.2L718.9 878.2L719.4 877.1L719.8 875.9L720.3 874.7L720.7 873.2L721 872.2L721.3 871.2L721.6 870.1L721.9 868.9L722.2 867.5L722.5 866.1L722.8 864.4L723.1 862.6L723.2 861.5L723.4 860.4L723.5 859.1L723.7 857.6L723.8 855.8L724 853.9L724.1 851.9L724.3 849.7L724.4 847.6" fill="none" stroke="#1da53a" stroke-width="2.9" stroke-linecap="round" stroke-linejoin="round"/>
<path d="M675 1071.9h0M675.1 988.7h0M675.3 962.1h0M675.4 954.6h0M675.6 951.3h0M724.6 838h0M724.9 833.7h0M725 829.2h0M725.3 825.9h0M725.6 821.6h0M725.9 815.6h0M726.2 813h0" fill="none" stroke="#1da53a" stroke-width="2.8" stroke-linecap="round"/>
<path d="M730.4 929.7L730.6 928.5L730.7 927.3L730.8 926.1L730.9 924.9L731 923.8L731.1 922.6L731.2 921.5L731.3 920.5L731.4 919.4L731.5 918.5L731.7 916.6L731.9 914.9L732.1 913.4L732.4 912L732.6 910.7L732.8 909.4L733 908.1L733.2 907L733.4 905.9L733.6 904.8L733.8 903.8L734.1 902.8L734.4 901.4L734.7 900L735 898.7L735.3 897.5L735.7 896.3L736 895.1L736.3 894L736.6 892.9L736.9 891.9L737.3 890.9L737.6 889.9L737.9 888.9L738.3 887.7L738.7 886.5L739.2 885.3L739.6 884.1L740 883L740.4 881.9L740.9 880.7L741.3 879.7L741.7 878.6L742.1 877.6L742.6 876.6L743 875.7L743.4 874.7L743.9 873.8L744.3 872.9L744.7 871.9L745.1 871L745.6 870.1L746 869.2L746.4 868.2L746.8 867.2L747.3 866.3L747.7 865.3L748.1 864.3L748.5 863.4L749 862.4L749.4 861.5L749.8 860.5L750.2 859.6L750.7 858.6L751.1 857.6L751.5 856.7L751.9 855.7L752.4 854.7L752.8 853.7L753.2 852.6L753.6 851.6L754.1 850.5L754.5 849.5L754.9 848.4L755.3 847.3L755.8 846.2L756.2 845.1L756.6 844L757 842.8L757.5 841.7L757.9 840.6L758.3 839.4L758.7 838.3L759.2 837.1L759.6 836L760 834.8L760.4 833.7L760.9 832.6L761.3 831.4L761.7 830.3L762.1 829.1L762.6 828L763 826.8L763.4 825.7L763.9 824.5L764.3 823.3L764.7 822.1L765.1 820.9L765.6 819.6L766 818.4L766.4 817.1L766.8 815.9L767.3 814.7L767.7 813.4L768 812.4L768.3 811.5L768.6 810.5L769 809.5L769.3 808.5L769.6 807.4L769.9 806.4L770.2 805.3L770.6 804.2L770.9 803L771.2 801.8L771.5 800.6L771.8 799.2L772.2 797.8L772.5 796.3L772.8 794.9L773.1 793.5L773.4 792.2L773.7 790.9L774.1 789.6L774.4 788.4L774.7 787.3L775 786.1L775.3 784.9L775.7 783.8L776 782.6L776.3 781.3L776.6 780.1L776.9 778.8L777.3 777.4L777.6 776L777.8 774.9L778 773.9L778.2 772.8L778.4 771.7L778.6 770.5L778.9 769.3L779.1 768.1L779.3 766.8L779.5 765.6L779.7 764.2L779.9 762.9L780.1 761.6L780.3 760.2" fill="none" stroke="#ee6363" stroke-width="2.9" stroke-linecap="round" stroke-linejoin="round"/>
<path d="M729.7 974h0M729.8 967.5h0M729.9 962.1h0M730 958.9h0M730.1 951.3h0M730.2 941.6h0M730.3 938.3h0M780.4 755.9h0M780.6 749.4h0M780.7 745.1h0M780.8 740.8h0M780.9 736.4h0M781 731h0M781.1 725.6h0M781.2 722.4h0M781.3 708.8h0" fill="none" stroke="#ee6363" stroke-width="2.8" stroke-linecap="round"/>
<path d="M785.7 947L785.8 945.7L786 944.4L786.1 943.1L786.3 941.9L786.4 940.7L786.6 939.6L786.7 938.5L787 936.7L787.3 935.2L787.6 933.9L787.9 932.6L788.2 931.5L788.5 930.4L788.9 929.4L789.3 928L789.8 926.7L790.2 925.5L790.7 924.3L791.1 923.2L791.6 922.2L792 921.2L792.5 920.3L793.1 919.1L793.7 918L794.3 917L794.9 916L795.5 915L796.1 914L796.8 913.1L797.4 912.2L798 911.4L798.6 910.6L799.3 909.6L800.1 908.8L800.9 908L801.6 907.3L802.4 906.6L803.3 905.9L804.2 905.2L805.1 904.6L806 904L806.9 903.3L807.8 902.7L808.8 901.9L809.5 901.3L810.3 900.5L811 899.8L811.8 899L812.6 898.2L813.3 897.4L814.1 896.6L814.8 895.8L815.6 895L816.3 894.2L817.1 893.4L817.9 892.6L818.6 891.8L819.4 891.1L820.1 890.4L820.9 889.6L821.7 888.9L822.4 888.1L823.2 887.2L823.9 886.3L824.7 885.3L825.3 884.5L825.9 883.6L826.5 882.6L827.1 881.6L827.7 880.5L828.2 879.6L828.7 878.6L829.1 877.5L829.6 876.3L830 875L830.5 873.6L830.8 872.6L831.1 871.5L831.4 870.4L831.7 869.2L832 867.8L832.3 866.4L832.6 864.7L832.9 862.8L833.1 861.8L833.2 860.6L833.4 859.4L833.5 857.8L833.7 856L833.8 854.1L834 852L834.1 849.8L834.3 847.6" fill="none" stroke="#1da53a" stroke-width="2.9" stroke-linecap="round" stroke-linejoin="round"/>
<path d="M784.9 1071.9h0M785.1 988.7h0M785.2 962.1h0M785.4 954.6h0M785.5 951.3h0M834.4 838h0M834.7 833.7h0M834.9 829.2h0M835.2 825.9h0M835.5 821.6h0M835.8 815.6h0M836.1 813h0" fill="none" stroke="#1da53a" stroke-width="2.8" stroke-linecap="round"/>
<path d="M840.8 938.3L841 936.2L841.3 934.1L841.6 932.1L841.9 930.2L842.2 928.5L842.5 926.9L842.8 925.4L843.1 924L843.4 922.7L843.7 921.5L843.9 920.3L844.2 919.1L844.5 918L844.8 916.8L845.1 915.7L845.4 914.6L845.7 913.5L846 912.3L846.3 911.2L846.6 910.1L846.8 909L847.1 907.9L847.4 906.9L847.7 905.9L848.3 904.1L848.9 902.6L849.5 901.1L850 899.6L850.6 898.3L851.2 897L851.8 895.7L852.4 894.6L852.9 893.5L853.5 892.4L854.1 891.4L854.7 890.5L855.3 889.6L856.1 888.5L857 887.4L857.9 886.4L858.7 885.4L859.6 884.4L860.5 883.3L861.3 882.3L862.2 881.2L863.1 880.2L864 879.2L864.8 878.1L865.7 876.9L866.6 875.7L867.1 874.9L867.7 873.9L868.3 873L868.9 872L869.5 870.9L870 869.9L870.6 868.8L871.2 867.7L871.8 866.6L872.4 865.4L872.9 864.3L873.5 863.2L874.1 862L874.7 860.8L875.3 859.6L875.8 858.4L876.4 857.1L877 855.8L877.6 854.5L878.2 853.2L878.7 851.9L879.3 850.5L879.9 849.1L880.5 847.7L881.1 846.3L881.6 844.8L882.2 843.3L882.8 841.7L883.4 840.1L884 838.4L884.5 836.7L885.1 835.1L885.7 833.2L886 832.1L886.3 830.8L886.6 829.4L886.9 827.8L887.1 825.3" fill="none" stroke="#ee6363" stroke-width="2.9" stroke-linecap="round" stroke-linejoin="round"/>
<path d="M839.6 992.4h0M839.9 970.8h0M840.2 961h0M840.5 951.3h0M887.4 822h0M887.7 818.3h0M888 814.7h0M888.3 811.4h0M888.6 808.3h0M888.9 805.2h0M889.2 802.2h0M889.5 832.6h0M889.8 820.7h0M890 816.4h0M890.3 809.9h0M890.6 801.3h0M890.9 790.5h0M891.2 785.1h0" fill="none" stroke="#ee6363" stroke-width="2.8" stroke-linecap="round"/>
<path d="M896.6 968.6L896.9 966.9L897.2 965.2L897.5 963.6L897.8 962.1L898.1 960.7L898.4 959.4L898.7 958.2L899 957L899.3 955.9L899.6 954.8L899.9 953.8L900.2 952.8L900.5 951.8L901.1 950L901.7 948.4L902.3 947L902.9 945.6L903.5 944.3L904.1 943.1L904.7 942L905.3 940.9L905.9 939.8L906.5 938.7L907.1 937.5L907.8 936.4L908.4 935.3L909 934.1L909.6 933L910.2 932L910.8 930.9L911.4 929.9L912 929L912.6 928.1L913.5 927L914.4 926L915.3 925.1L916.2 924.2L917.1 923.4L918 922.5L918.9 921.6L919.8 920.5L920.7 919.4L921.6 918.2L922.2 917.4L922.8 916.6L923.4 915.7L924 914.9L924.6 914L925.2 913.1L925.8 912.2L926.4 911.3L927 910.4L927.6 909.4L928.2 908.5L928.8 907.6L929.4 906.5L930 905.5L930.6 904.4L931.2 903.2L931.8 901.9L932.4 900.5L933 898.8L933.7 897L934 896.1L934.3 895.1L934.6 894.1L934.9 893.1L935.2 892.1L935.5 891.1L935.8 890L936.1 889.1L936.4 888.1L936.7 887.1L937 886.1L937.3 885L937.6 884L937.9 883L938.2 881.9L938.5 880.9L938.8 879.8L939.1 878.8L939.4 877.7L939.7 876.7L940 875.8L940.3 874.8L940.6 873.8L940.9 872.9L941.2 871.9L941.5 870.9L941.8 869.8L942.1 868.7L942.4 867.5L942.7 866.2L943 864.8L943.3 863.3L943.6 861.7L943.9 860.1L944.2 858.4" fill="none" stroke="#1da53a" stroke-width="2.9" stroke-linecap="round" stroke-linejoin="round"/>
<path d="M894.8 1071.9h0M895.1 990.2h0M895.4 985.9h0M895.7 981.6h0M896 977.3h0M896.3 972.9h0M944.5 851.9h0M944.8 846.5h0M945.1 834.6h0M945.7 805h0" fill="none" stroke="#1da53a" stroke-width="2.8" stroke-linecap="round"/>
<path d="M950.4 916.7L950.7 915.2L950.9 913.8L951.1 912.3L951.3 910.8L951.5 909.3L951.7 907.9L951.9 906.4L952.1 904.9L952.3 903.4L952.5 901.9L952.8 900.4L953 898.9L953.2 897.3L953.4 895.6L953.6 894L953.8 892.4L954 890.9L954.2 889.5L954.4 888.1L954.6 887L954.9 885.9L955.2 884.5L955.5 883.1L955.8 881.9L956.1 880.7L956.4 879.5L956.8 878.5L957.1 877.4L957.4 876.4L957.7 875.5L958 874.5L958.3 873.6L958.6 872.6L959 871.6L959.3 870.6L959.6 869.7L959.9 868.7L960.3 867.5L960.7 866.2L961.2 865L961.6 863.8L962 862.6L962.4 861.5L962.8 860.4L963.3 859.2L963.7 858.1L964.1 857L964.5 856L964.9 854.9L965.4 853.9L965.8 852.8L966.2 851.8L966.6 850.8L967.1 849.9L967.5 848.9L967.9 847.9L968.3 847L968.7 846L969.2 845.1L969.6 844.1L970 843.1L970.4 842.2L970.8 841.2L971.3 840.2L971.7 839.2L972.1 838.2L972.5 837.2L972.9 836.2L973.4 835.2L973.8 834.2L974.2 833.2L974.6 832.2L975 831.2L975.5 830.2L975.9 829.2L976.3 828.2L976.7 827.3L977.1 826.4L977.6 825.5L978.1 824.3L978.6 823.3L979.1 822.2L979.7 821.1L980.2 820.1L980.7 819L981.2 818L981.8 817L982.3 816L982.8 814.9L983.3 813.9L983.9 812.8L984.4 811.8L984.9 810.8L985.4 809.9L986 809L986.5 808L987 807.1L987.5 806.1L988.1 805.1L988.6 804L989 803.1L989.4 802.1L989.9 801L990.3 799.9L990.7 798.7L991 797.6L991.3 796.5L991.6 795.2L992 794L992.3 792.6L992.6 791.2L992.9 789.8L993.2 788.4L993.5 786.9L993.7 785.9L994 785L994.3 783.5L994.6 782L994.9 780.6L995.2 779.2L995.5 777.9L995.8 776.6L996.2 775.4L996.5 774.1L996.8 772.9L997.1 771.7L997.4 770.5L997.7 769.3L998.1 768L998.4 766.7L998.7 765.3L999 763.9L999.2 762.9L999.4 761.9L999.6 760.8L999.8 759.8L1000 758.7L1000.3 757.6L1000.5 756.5" fill="none" stroke="#ee6363" stroke-width="2.9" stroke-linecap="round" stroke-linejoin="round"/>
<path d="M949.5 965.4h0M949.6 961h0M949.7 955.6h0M949.8 949.2h0M949.9 942.7h0M950 936.2h0M950.1 930.8h0M950.2 926.5h0M950.3 922.1h0M1000.7 753.7h0M1000.8 749.4h0M1000.9 746.2h0M1001 741.2h0M1001.1 717h0" fill="none" stroke="#ee6363" stroke-width="2.8" stroke-linecap="round"/>
<path d="M1004.7 942.7L1005 940.5M1005.4 936.2L1005.7 934.5L1006.1 932.9L1006.4 931.4L1006.7 930L1007.1 928.7L1007.4 927.7L1008.1 926.3L1008.8 925.1L1009.4 924L1010.1 923.2L1010.8 922.3L1011.5 921.4L1012.2 920.4L1012.8 919.5L1013.5 918.5L1014.2 917.6L1014.9 916.7L1015.6 915.8L1016.2 914.9L1016.9 914L1017.6 913.1L1018.3 912.2L1018.9 911.2L1019.6 910.3L1020.3 909.4L1021 908.4L1021.7 907.5L1022.3 906.6L1023 905.6L1023.7 904.7L1024.4 903.9L1025 903L1025.7 902.2L1026.4 901.4L1027.1 900.6L1027.8 899.9L1028.4 899.1L1029.1 898.3L1029.8 897.5L1030.5 896.6L1031.1 895.8L1031.8 894.9L1032.5 894.1L1033.2 893.2L1033.9 892.3L1034.5 891.3L1035.2 890.2L1035.9 889L1036.6 887.6L1037.3 885.9L1037.6 884.9L1037.9 883.9L1038.3 882.8L1038.6 881.7L1038.9 880.6L1039.3 879.4L1039.6 878.2L1040 877L1040.3 875.8L1040.6 874.6L1041 873.3L1041.3 872L1041.7 870.7L1042 869.3L1042.3 867.9L1042.7 866.5L1043 865L1043.4 863.5L1043.7 861.9L1044 860.3L1044.4 858.7L1044.7 857L1045 855.2L1045.4 853.4L1045.7 851.4L1046.1 849.1L1046.4 846.7L1046.7 844.2L1047.1 841.6L1047.4 839.1L1047.8 836.7L1048.1 834.5L1048.4 832.3L1048.8 830.2L1049.1 828.1L1049.5 826L1049.8 824L1050.1 822L1050.5 820L1050.8 818L1051.2 816L1051.5 813.8L1051.8 811.5L1052.2 809.2L1052.5 807.1L1052.8 805.2L1053.2 803.6L1053.5 802.5L1054.2 801.5M1054.9 794.8L1055.2 792.6" fill="none" stroke="#1da53a" stroke-width="2.9" stroke-linecap="round" stroke-linejoin="round"/>
<path d="M1055.6 786.8h0M1055.9 762.8h0" fill="none" stroke="#1da53a" stroke-width="2.8" stroke-linecap="round"/>
<path d="M1060.9 972.9L1061 971.4L1061.1 969.9L1061.2 968.5L1061.3 967L1061.4 965.6L1061.5 964.2L1061.6 962.9L1061.8 961.6L1061.9 960.3L1062 959.2L1062.1 958L1062.2 957L1062.3 956L1062.5 954.1L1062.8 952.4L1063 950.7L1063.2 949.2L1063.4 947.7L1063.7 946.3L1063.9 945L1064.1 943.7L1064.3 942.5L1064.6 941.3L1064.8 940.1L1065 939L1065.2 937.8L1065.5 936.8L1065.7 935.7L1065.9 934.7L1066.1 933.6L1066.4 932.6L1066.7 931.2L1067 929.8L1067.4 928.5L1067.7 927.1L1068 925.9L1068.4 924.6L1068.7 923.4L1069 922.3L1069.4 921.1L1069.7 920L1070.1 918.9L1070.4 917.9L1070.7 916.9L1071.1 915.9L1071.4 914.9L1071.7 913.9L1072.2 912.7L1072.6 911.5L1073.1 910.3L1073.5 909.1L1074 907.9L1074.4 906.7L1074.9 905.6L1075.3 904.4L1075.8 903.3L1076.2 902.2L1076.7 901.1L1077.1 900L1077.6 898.9L1078 897.9L1078.5 896.8L1078.9 895.8L1079.4 894.8L1079.8 893.8L1080.3 892.8L1080.7 891.8L1081.2 890.8L1081.6 889.8L1082.1 888.9L1082.5 887.9L1083 887L1083.4 886.1L1083.9 885.2L1084.3 884.3L1084.9 883.2L1085.4 882.1L1086 881L1086.5 879.9L1087.1 878.8L1087.6 877.9L1088 877L1088.5 876L1088.9 875.1L1089.4 874.2L1089.8 873.3L1090.2 872.4L1090.7 871.5L1091.1 870.6L1091.6 869.7L1092 868.8L1092.5 867.9L1092.9 867L1093.4 866.1L1093.8 865.2L1094.3 864.3L1094.7 863.4L1095.3 862.2L1095.9 861.1L1096.4 860L1097 858.9L1097.5 857.8L1098 856.9L1098.4 856L1098.9 855.1L1099.3 854.2L1099.8 853.2L1100.2 852.3L1100.7 851.3L1101.1 850.3L1101.6 849.4L1102 848.4L1102.5 847.4L1102.9 846.5L1103.4 845.4L1103.8 844.4L1104.3 843.2L1104.7 842L1105.1 841.1L1105.4 840L1105.7 839L1106.1 837.8L1106.4 836.7L1106.7 835.4L1107.1 834.1L1107.4 832.6L1107.6 831.6L1107.9 830.5L1108.1 829.3L1108.3 828L1108.5 826.6L1108.8 825.2L1109 823.6L1109.1 822.5L1109.2 821.2L1109.3 819.7L1109.4 818.1L1109.5 816.4L1109.7 814.7L1109.8 813.1L1109.9 811.6L1110 810.3L1110.2 808.7L1110.7 807.8" fill="none" stroke="#ee6363" stroke-width="2.9" stroke-linecap="round" stroke-linejoin="round"/>
<path d="M1059.4 1037.8h0M1059.5 1032.4h0M1059.6 1027h0M1059.7 1021.6h0M1059.8 1009.7h0M1060 1004.3h0M1060.1 998.9h0M1060.2 994.5h0M1060.3 990.2h0M1060.4 987h0M1060.5 983.7h0M1060.6 980.5h0M1060.7 977.3h0M1110.8 797h0M1110.9 790.9h0M1111 783.6h0" fill="none" stroke="#ee6363" stroke-width="2.8" stroke-linecap="round"/>
<path d="M1115 983.7L1115.2 981.8L1115.3 979.9L1115.5 978.1L1115.7 976.4L1115.9 974.8L1116.1 973.3L1116.3 972L1116.4 970.8L1116.6 969.8L1116.9 968.4L1117.2 967L1117.4 965.8L1117.7 964.6L1118 963.6L1118.3 962.6L1118.6 961.4L1119 960.4L1119.5 959.3L1119.9 958.3L1120.4 957.4L1120.9 956.3L1121.5 955.4L1122 954.6L1122.7 953.6L1123.3 952.8L1124 952L1124.6 951.1L1125.3 950.3L1125.9 949.6L1126.6 948.7L1127.4 947.9L1128.1 947.2L1128.8 946.4L1129.6 945.7L1130.3 945L1131.1 944.2L1132 943.5L1132.8 942.8L1133.6 942.1L1134.5 941.4L1135.3 940.7L1136.1 940.1L1136.9 939.5L1137.8 938.9L1138.6 938.3L1139.4 937.6L1140.2 937L1141.1 936.4L1141.9 935.8L1142.7 935.2L1143.6 934.6L1144.4 934L1145.2 933.5L1146 932.9L1146.9 932.3L1147.7 931.6L1148.5 930.9L1149.3 930.2L1150.1 929.4L1150.8 928.6L1151.6 927.8L1152.2 927L1152.8 926.1L1153.5 925.2L1154.1 924.3L1154.7 923.4L1155.2 922.6L1155.8 921.7L1156.3 920.8L1156.9 919.9L1157.4 919L1158 918.1L1158.5 917L1159 916.1L1159.5 915L1159.8 914.1L1160.2 913L1160.6 911.8L1160.8 910.7L1161.1 909.3L1161.3 908.3L1161.5 907.2L1161.7 906.1L1161.8 904.9L1162 903.7L1162.2 902.4L1162.4 901.1L1162.6 899.8L1162.8 898.4L1163 897.1L1163.1 895.8L1163.3 894.5L1163.5 893.3L1163.7 891.9L1163.9 890.4L1164.1 888.8L1164.2 886.9L1164.3 885.9L1164.4 884.8L1164.5 883.6L1164.6 882.3L1164.7 880.7L1164.8 878.7L1164.9 876.3" fill="none" stroke="#1da53a" stroke-width="2.9" stroke-linecap="round" stroke-linejoin="round"/>
<path d="M1114.6 998.9h0M1114.7 995.6h0M1114.8 992.4h0M1114.9 989.1h0M1165 873.7h0M1165.1 870.8h0M1165.2 867.8h0M1165.2 864.8h0M1165.3 849.3h0M1165.5 832.9h0M1165.7 814.1h0" fill="none" stroke="#1da53a" stroke-width="2.8" stroke-linecap="round"/>
<path d="M1172.7 965.4L1173.1 963.4L1173.5 961.4L1173.9 959.6L1174.2 957.9L1174.6 956.4L1175 955.1L1175.4 953.8L1175.8 952.6L1176.1 951.5L1176.5 950.4L1176.9 949.4L1177.3 948.5L1178 946.7L1178.8 945.2L1179.5 944L1180.3 942.9L1181.1 942L1181.8 941.1L1182.6 940.3L1183.3 939.5L1184.1 938.6L1184.9 937.6L1185.6 936.7L1186.4 935.8L1187.1 934.9L1187.9 933.9L1188.6 932.9L1189.4 931.7L1190.2 930.5L1190.9 929L1191.7 927.1L1192.1 925.9L1192.4 924.7L1192.8 923.4L1193.2 922.1L1193.6 920.8L1194 919.6L1194.3 918.4L1194.7 917.2L1195.1 916.2L1195.9 914.6L1196.6 913.4L1197.4 912.4L1198.1 911.6L1198.9 910.8L1199.7 910L1200.4 909.1L1201.2 908L1201.9 906.8L1202.7 905.4L1203.4 904L1204.2 902.4L1205 900.8L1205.7 899L1206.1 898L1206.5 897L1206.9 895.9L1207.2 894.8L1207.6 893.6L1208 892.3L1208.4 891L1208.8 889.6L1209.1 888.2L1209.5 886.7L1209.9 885.1L1210.3 883.5L1210.7 881.8L1211 880.1L1211.4 878.2L1211.8 876.1L1212.2 874L1212.6 871.8L1212.9 869.5L1213.3 867.1M1214.4 858.5L1214.8 856L1215.2 853.8L1215.6 851.7L1216 849.8L1216.3 848L1216.7 846.2L1217.1 844.5L1217.5 842.8L1217.9 841.2L1218.2 839.6L1218.6 838.1L1219 836.7" fill="none" stroke="#ee6363" stroke-width="2.9" stroke-linecap="round" stroke-linejoin="round"/>
<path d="M1169.3 1017.2h0M1169.7 1012.9h0M1170.1 1003.2h0M1170.4 994.5h0M1170.8 990.2h0M1171.2 985.9h0M1171.6 981.6h0M1172 977.3h0M1172.3 970.8h0M1213.7 864.4h0M1214.1 861.5h0M1219.4 846.7h0M1219.8 840.2h0M1220.1 834.8h0M1220.5 828.7h0" fill="none" stroke="#ee6363" stroke-width="2.8" stroke-linecap="round"/>
<path d="M1225.1 1008.7L1225.4 1007.3L1225.7 1006.1L1226.1 1005.2L1226.7 1003.7L1227.3 1002.6L1227.9 1001.7L1228.6 1000.6L1229.2 999.6L1229.8 998.6L1230.4 997.7L1231.1 996.8L1231.7 996L1232.3 995.2L1233.2 994.1L1234.2 993L1235.1 991.9L1236.1 990.9L1237 989.8L1237.9 988.8L1238.9 987.9L1239.8 986.9L1240.7 986L1241.7 985.2L1242.6 984.3L1243.5 983.5L1244.5 982.7L1245.4 982L1246.4 981.3L1247.3 980.7L1248.2 980L1249.2 979.3L1250.1 978.6L1251 977.9L1252 977.1L1252.9 976.2L1253.8 975.4L1254.8 974.5L1255.7 973.6L1256.7 972.6L1257.6 971.5L1258.5 970.3L1259.2 969.5L1259.8 968.6L1260.4 967.6L1261 966.6L1261.7 965.6L1262.3 964.5L1262.9 963.3L1263.5 962.1L1264.1 960.8L1264.8 959.3L1265.4 957.8L1266 956.2L1266.6 954.5L1267.3 952.7L1267.9 950.9L1268.5 949L1268.8 948L1269.1 947L1269.5 945.9L1269.8 944.8L1270.1 943.7L1270.4 942.6L1270.7 941.5L1271 940.3L1271.3 939.1L1271.6 937.8L1272 936.6L1272.3 935.2L1272.6 933.9L1272.9 932.5L1273.2 931.1L1273.5 929.7M1275.4 888.6L1275.7 886.5" fill="none" stroke="#1da53a" stroke-width="2.9" stroke-linecap="round" stroke-linejoin="round"/>
<path d="M1224.5 1017.2h0M1224.8 1012.2h0M1273.8 924.9h0M1274.1 916.7h0M1274.5 905.9h0M1274.8 895.1h0M1275.1 891.9h0" fill="none" stroke="#1da53a" stroke-width="2.8" stroke-linecap="round"/>
<circle cx="645.1" cy="585.6" r="0.9" fill="#ee6363"/>
<line x1="70.9" y1="844" x2="121.3" y2="844" stroke="#000" stroke-width="2"/>
<line x1="126.1" y1="867.6" x2="176.1" y2="867.6" stroke="#000" stroke-width="2"/>
<line x1="180.8" y1="838.4" x2="231.2" y2="838.4" stroke="#000" stroke-width="2"/>
<line x1="236" y1="892" x2="286" y2="892" stroke="#000" stroke-width="2"/>
<line x1="290.7" y1="963.2" x2="341.1" y2="963.2" stroke="#000" stroke-width="2"/>
<line x1="345.9" y1="1043.2" x2="395.9" y2="1043.2" stroke="#000" stroke-width="2"/>
<line x1="400.6" y1="910.2" x2="451" y2="910.2" stroke="#000" stroke-width="2"/>
<line x1="455.8" y1="984.8" x2="505.8" y2="984.8" stroke="#000" stroke-width="2"/>
<line x1="510.5" y1="915.8" x2="560.9" y2="915.8" stroke="#000" stroke-width="2"/>
<line x1="565.7" y1="984.8" x2="615.7" y2="984.8" stroke="#000" stroke-width="2"/>
<line x1="620.4" y1="852" x2="670.8" y2="852" stroke="#000" stroke-width="2"/>
<line x1="675.6" y1="903.3" x2="725.6" y2="903.3" stroke="#000" stroke-width="2"/>
<line x1="730.3" y1="845.4" x2="780.7" y2="845.4" stroke="#000" stroke-width="2"/>
<line x1="785.5" y1="903" x2="835.5" y2="903" stroke="#000" stroke-width="2"/>
<line x1="840.2" y1="876.7" x2="890.6" y2="876.7" stroke="#000" stroke-width="2"/>
<line x1="895.4" y1="919.5" x2="945.4" y2="919.5" stroke="#000" stroke-width="2"/>
<line x1="950.1" y1="834.2" x2="1000.5" y2="834.2" stroke="#000" stroke-width="2"/>
<line x1="1005.3" y1="899.3" x2="1055.3" y2="899.3" stroke="#000" stroke-width="2"/>
<line x1="1060" y1="886" x2="1110.4" y2="886" stroke="#000" stroke-width="2"/>
<line x1="1115.2" y1="938.8" x2="1165.2" y2="938.8" stroke="#000" stroke-width="2"/>
<line x1="1169.9" y1="921.3" x2="1220.3" y2="921.3" stroke="#000" stroke-width="2"/>
<line x1="1225.1" y1="977.7" x2="1275.1" y2="977.7" stroke="#000" stroke-width="2"/>
<line x1="68.6" y1="867.7" x2="1277.5" y2="867.7" stroke="#000" stroke-width="2" stroke-dasharray="9.2 7.45"/>
<rect x="68.7" y="577" width="1209.3" height="497" fill="none" stroke="#000" stroke-width="1.9"/>
<line x1="61.5" y1="1072" x2="68.7" y2="1072" stroke="#000" stroke-width="2"/>
<text x="40.22" y="1077.2" font-size="20.3" textLength="10.16" lengthAdjust="spacingAndGlyphs">0</text>
<line x1="61.5" y1="989.53" x2="68.7" y2="989.53" stroke="#000" stroke-width="2"/>
<text x="40.22" y="994.73" font-size="20.3" textLength="10.16" lengthAdjust="spacingAndGlyphs">2</text>
<line x1="61.5" y1="907.06" x2="68.7" y2="907.06" stroke="#000" stroke-width="2"/>
<text x="40.22" y="912.26" font-size="20.3" textLength="10.16" lengthAdjust="spacingAndGlyphs">4</text>
<line x1="61.5" y1="824.59" x2="68.7" y2="824.59" stroke="#000" stroke-width="2"/>
<text x="40.22" y="829.79" font-size="20.3" textLength="10.16" lengthAdjust="spacingAndGlyphs">6</text>
<line x1="61.5" y1="742.12" x2="68.7" y2="742.12" stroke="#000" stroke-width="2"/>
<text x="40.22" y="747.32" font-size="20.3" textLength="10.16" lengthAdjust="spacingAndGlyphs">8</text>
<line x1="61.5" y1="659.65" x2="68.7" y2="659.65" stroke="#000" stroke-width="2"/>
<text x="35.14" y="664.85" font-size="20.3" textLength="20.32" lengthAdjust="spacingAndGlyphs">10</text>
<line x1="61.5" y1="577.18" x2="68.7" y2="577.18" stroke="#000" stroke-width="2"/>
<text x="35.14" y="582.38" font-size="20.3" textLength="20.32" lengthAdjust="spacingAndGlyphs">12</text>
<text transform="translate(24.6 831.5) rotate(-90)" x="-188" font-size="29.5" textLength="376" lengthAdjust="spacingAndGlyphs">Transcripts Per Million (TPM)</text>
<text x="89.57" y="510" font-size="20.7">Liver</text>
<text x="45.83" y="535" font-size="20.7">Hepatocellular</text>
<text x="61.96" y="560" font-size="20.7">Carcinoma</text>
<text x="200.69" y="535" font-size="20.7">Breast</text>
<text x="180.56" y="560" font-size="20.7">Carcinoma</text>
<text x="307.77" y="485" font-size="20.7">Diffuse</text>
<text x="313.63" y="510" font-size="20.7">Large</text>
<text x="316.42" y="535" font-size="20.7">B-cell</text>
<text x="294.28" y="560" font-size="20.7">Lymphoma</text>
<text x="432.85" y="535" font-size="20.7">Glio-</text>
<text x="412.7" y="560" font-size="20.7">blastoma</text>
<text x="539.64" y="510" font-size="20.7">Brain</text>
<text x="505.69" y="535" font-size="20.7">Lower-grade</text>
<text x="531.02" y="560" font-size="20.7">Glioma</text>
<text x="648.17" y="510" font-size="20.7">Lung</text>
<text x="637.82" y="535" font-size="20.7">Adeno-</text>
<text x="621.16" y="560" font-size="20.7">Carcinoma</text>
<text x="759.57" y="510" font-size="20.7">Lung</text>
<text x="729.67" y="535" font-size="20.7">Squamous-</text>
<text x="732.56" y="560" font-size="20.7">Carcinoma</text>
<text x="842.5" y="510" font-size="20.7">Pancreatic</text>
<text x="858.02" y="535" font-size="20.7">Adeno-</text>
<text x="841.36" y="560" font-size="20.7">Carcinoma</text>
<text x="963.45" y="510" font-size="20.7">Prostate</text>
<text x="968.62" y="535" font-size="20.7">Adeno-</text>
<text x="951.96" y="560" font-size="20.7">Carcinoma</text>
<text x="1091.07" y="510" font-size="20.7">Skin</text>
<text x="1061.14" y="535" font-size="20.7">Cutaneous</text>
<text x="1062.87" y="560" font-size="20.7">Melanoma</text>
<text x="1176.58" y="510" font-size="20.7">Testicular</text>
<text x="1175.45" y="535" font-size="20.7">Germ-cell</text>
<text x="1185.6" y="560" font-size="20.7">Tumors</text>
<path d="M1181 602.5 l3.2 -4.6 h7.6 l3.2 4.6 l-2.6 5.6 q-4.4 3 -8.8 0 z" fill="#fa6565" stroke="#fa6565" stroke-width="1" stroke-linejoin="round"/>
<path d="M1181 631 l3.2 -4.6 h7.6 l3.2 4.6 l-2.6 5.6 q-4.4 3 -8.8 0 z" fill="#18a83b" stroke="#18a83b" stroke-width="1" stroke-linejoin="round"/>
<text x="1202.1" y="609.3" font-size="20.3" textLength="57.7" lengthAdjust="spacingAndGlyphs">Tumor</text>
<text x="1202.1" y="638.1" font-size="20.3" textLength="64.8" lengthAdjust="spacingAndGlyphs">Normal</text>
<text transform="translate(100.7 1100.3) scale(0.87 1) rotate(-45)" x="-96.9" font-size="22.3">T (n=369)</text>
<text transform="translate(155.7 1100.3) scale(0.87 1) rotate(-45)" x="-99.79" font-size="22.3">N (n=160)</text>
<text transform="translate(210.6 1100.3) scale(0.87 1) rotate(-45)" x="-109.3" font-size="22.3">T (n=1085)</text>
<text transform="translate(265.6 1100.3) scale(0.87 1) rotate(-45)" x="-99.79" font-size="22.3">N (n=291)</text>
<text transform="translate(320.5 1100.3) scale(0.87 1) rotate(-45)" x="-84.5" font-size="22.3">T (n=47)</text>
<text transform="translate(375.5 1100.3) scale(0.87 1) rotate(-45)" x="-99.79" font-size="22.3">N (n=337)</text>
<text transform="translate(430.4 1100.3) scale(0.87 1) rotate(-45)" x="-96.9" font-size="22.3">T (n=163)</text>
<text transform="translate(485.4 1100.3) scale(0.87 1) rotate(-45)" x="-99.79" font-size="22.3">N (n=207)</text>
<text transform="translate(540.3 1100.3) scale(0.87 1) rotate(-45)" x="-96.9" font-size="22.3">T (n=518)</text>
<text transform="translate(595.3 1100.3) scale(0.87 1) rotate(-45)" x="-99.79" font-size="22.3">N (n=207)</text>
<text transform="translate(650.2 1100.3) scale(0.87 1) rotate(-45)" x="-96.9" font-size="22.3">T (n=482)</text>
<text transform="translate(705.2 1100.3) scale(0.87 1) rotate(-45)" x="-99.79" font-size="22.3">N (n=347)</text>
<text transform="translate(760.1 1100.3) scale(0.87 1) rotate(-45)" x="-96.9" font-size="22.3">T (n=486)</text>
<text transform="translate(815.1 1100.3) scale(0.87 1) rotate(-45)" x="-99.79" font-size="22.3">N (n=338)</text>
<text transform="translate(870 1100.3) scale(0.87 1) rotate(-45)" x="-96.9" font-size="22.3">T (n=179)</text>
<text transform="translate(925 1100.3) scale(0.87 1) rotate(-45)" x="-99.79" font-size="22.3">N (n=171)</text>
<text transform="translate(979.9 1100.3) scale(0.87 1) rotate(-45)" x="-96.9" font-size="22.3">T (n=492)</text>
<text transform="translate(1034.9 1100.3) scale(0.87 1) rotate(-45)" x="-99.79" font-size="22.3">N (n=152)</text>
<text transform="translate(1089.8 1100.3) scale(0.87 1) rotate(-45)" x="-96.9" font-size="22.3">T (n=461)</text>
<text transform="translate(1144.8 1100.3) scale(0.87 1) rotate(-45)" x="-99.79" font-size="22.3">N (n=558)</text>
<text transform="translate(1199.7 1100.3) scale(0.87 1) rotate(-45)" x="-96.9" font-size="22.3">T (n=137)</text>
<text transform="translate(1254.7 1100.3) scale(0.87 1) rotate(-45)" x="-99.79" font-size="22.3">N (n=165)</text>
</g>
<g id="panel-d">
<text x="1335.8" y="482" font-size="33" font-weight="bold">d</text>
<line x1="1439.48" y1="515.89" x2="1439.48" y2="768.31" stroke="#000" stroke-width="2"/>
<line x1="1428.75" y1="767.51" x2="1890" y2="767.51" stroke="#000" stroke-width="2"/>
<line x1="1428.75" y1="516.69" x2="1439.48" y2="516.69" stroke="#000" stroke-width="1.9"/>
<text x="1394.48" y="523.89" font-size="20.5" textLength="27.64" lengthAdjust="spacingAndGlyphs">1.5</text>
<line x1="1428.75" y1="599.98" x2="1439.48" y2="599.98" stroke="#000" stroke-width="1.9"/>
<text x="1394.48" y="607.18" font-size="20.5" textLength="27.64" lengthAdjust="spacingAndGlyphs">1.0</text>
<line x1="1428.75" y1="683.9" x2="1439.48" y2="683.9" stroke="#000" stroke-width="1.9"/>
<text x="1394.48" y="691.1" font-size="20.5" textLength="27.64" lengthAdjust="spacingAndGlyphs">0.5</text>
<line x1="1428.75" y1="767.51" x2="1439.48" y2="767.51" stroke="#000" stroke-width="1.9"/>
<text x="1394.48" y="774.71" font-size="20.5" textLength="27.64" lengthAdjust="spacingAndGlyphs">0.0</text>
<text transform="translate(1385.81 629.95) rotate(-90)" x="-101.75" font-size="29.5" textLength="203.5" lengthAdjust="spacingAndGlyphs">UXS1 KO effect</text>
<line x1="1548.7" y1="524.3" x2="1548.7" y2="765.04" stroke="#111" stroke-width="4" stroke-linecap="round" stroke-dasharray="0 7.52"/>
<line x1="1548.7" y1="524.3" x2="1548.7" y2="765.04" stroke="#bbb" stroke-width="1.3" stroke-linecap="round" stroke-dasharray="0 7.52"/>
<line x1="1446.6" y1="684" x2="1882.86" y2="684" stroke="#000" stroke-width="3.7" stroke-linecap="round" stroke-dasharray="0 7.52"/>
<circle cx="1442" cy="712.93" r="5.1" fill="#f00f0f"/>
<circle cx="1457.77" cy="700.94" r="5.1" fill="#f00f0f"/>
<circle cx="1473.86" cy="699.99" r="5.1" fill="#f00f0f"/>
<circle cx="1489.95" cy="731.23" r="5.1" fill="#f00f0f"/>
<circle cx="1506.04" cy="731.54" r="5.1" fill="#f00f0f"/>
<circle cx="1521.82" cy="705.36" r="5.1" fill="#f00f0f"/>
<circle cx="1537.59" cy="707.57" r="5.1" fill="#f00f0f"/>
<circle cx="1578.29" cy="643.84" r="5.1" fill="#8a8a8a"/>
<circle cx="1594.07" cy="626.17" r="5.1" fill="#8a8a8a"/>
<circle cx="1610.16" cy="627.11" r="5.1" fill="#8a8a8a"/>
<circle cx="1625.93" cy="616.7" r="5.1" fill="#8a8a8a"/>
<circle cx="1658.11" cy="647.62" r="5.1" fill="#8a8a8a"/>
<circle cx="1673.89" cy="604.4" r="5.1" fill="#8a8a8a"/>
<circle cx="1705.75" cy="647.31" r="5.1" fill="#8a8a8a"/>
<circle cx="1721.84" cy="551.08" r="5.1" fill="#8a8a8a"/>
<circle cx="1737.62" cy="635.95" r="5.1" fill="#8a8a8a"/>
<circle cx="1769.48" cy="605.03" r="5.1" fill="#8a8a8a"/>
<circle cx="1817.43" cy="653.62" r="5.1" fill="#8a8a8a"/>
<circle cx="1881.48" cy="619.23" r="5.1" fill="#8a8a8a"/>
<circle cx="1557.78" cy="599.98" r="5.1" fill="#0a0af0"/>
<circle cx="1637.6" cy="551.08" r="5.1" fill="#0a0af0"/>
<circle cx="1685.56" cy="643.52" r="5.1" fill="#0a0af0"/>
<circle cx="1749.29" cy="610.39" r="5.1" fill="#0a0af0"/>
<circle cx="1781.47" cy="605.66" r="5.1" fill="#0a0af0"/>
<circle cx="1797.24" cy="599.98" r="5.1" fill="#0a0af0"/>
<circle cx="1829.11" cy="606.61" r="5.1" fill="#0a0af0"/>
<circle cx="1845.2" cy="622.38" r="5.1" fill="#0a0af0"/>
<circle cx="1860.97" cy="623.64" r="5.1" fill="#0a0af0"/>
<line x1="1438.48" y1="793.66" x2="1438.48" y2="1043.7" stroke="#000" stroke-width="2"/>
<line x1="1427.75" y1="1043.5" x2="1881.48" y2="1043.5" stroke="#000" stroke-width="2"/>
<line x1="1427.75" y1="794.46" x2="1438.48" y2="794.46" stroke="#000" stroke-width="1.8"/>
<text x="1409.66" y="802.06" font-size="20.5" textLength="11.06" lengthAdjust="spacingAndGlyphs">3</text>
<line x1="1427.75" y1="856.93" x2="1438.48" y2="856.93" stroke="#000" stroke-width="1.8"/>
<text x="1409.66" y="864.53" font-size="20.5" textLength="11.06" lengthAdjust="spacingAndGlyphs">2</text>
<line x1="1427.75" y1="919.4" x2="1438.48" y2="919.4" stroke="#000" stroke-width="1.8"/>
<text x="1409.66" y="927" font-size="20.5" textLength="11.06" lengthAdjust="spacingAndGlyphs">1</text>
<line x1="1427.75" y1="981.55" x2="1438.48" y2="981.55" stroke="#000" stroke-width="1.8"/>
<text x="1409.66" y="989.15" font-size="20.5" textLength="11.06" lengthAdjust="spacingAndGlyphs">0</text>
<line x1="1427.75" y1="1043.7" x2="1438.48" y2="1043.7" stroke="#000" stroke-width="1.8"/>
<text x="1403.04" y="1051.3" font-size="20.5" textLength="17.68" lengthAdjust="spacingAndGlyphs">-1</text>
<text transform="translate(1354.37 896.2) rotate(-90)" x="-90" font-size="29.5" textLength="180" lengthAdjust="spacingAndGlyphs">UGDH protein</text>
<line x1="1427.75" y1="896.5" x2="1438.48" y2="896.5" stroke="#000" stroke-width="1.8"/>
<text transform="translate(1389.89 896.2) rotate(-90)" x="-68.75" font-size="29.5" textLength="137.5" lengthAdjust="spacingAndGlyphs">expression</text>
<line x1="1548.7" y1="802.9" x2="1548.7" y2="1036.12" stroke="#111" stroke-width="4" stroke-linecap="round" stroke-dasharray="0 7.52"/>
<line x1="1548.7" y1="802.9" x2="1548.7" y2="1036.12" stroke="#bbb" stroke-width="1.3" stroke-linecap="round" stroke-dasharray="0 7.52"/>
<line x1="1445.9" y1="896.5" x2="1882.16" y2="896.5" stroke="#000" stroke-width="3.7" stroke-linecap="round" stroke-dasharray="0 7.52"/>
<circle cx="1441.05" cy="827.73" r="5.1" fill="#f00f0f"/>
<circle cx="1457.14" cy="838.78" r="5.1" fill="#f00f0f"/>
<circle cx="1472.92" cy="853.61" r="5.1" fill="#f00f0f"/>
<circle cx="1488.69" cy="856.44" r="5.1" fill="#f00f0f"/>
<circle cx="1504.78" cy="859.92" r="5.1" fill="#f00f0f"/>
<circle cx="1520.56" cy="886.42" r="5.1" fill="#f00f0f"/>
<circle cx="1536.33" cy="895.57" r="5.1" fill="#f00f0f"/>
<circle cx="1576.71" cy="901.56" r="5.1" fill="#8a8a8a"/>
<circle cx="1592.49" cy="902.19" r="5.1" fill="#8a8a8a"/>
<circle cx="1608.26" cy="902.19" r="5.1" fill="#8a8a8a"/>
<circle cx="1624.04" cy="904.71" r="5.1" fill="#8a8a8a"/>
<circle cx="1655.9" cy="912.29" r="5.1" fill="#8a8a8a"/>
<circle cx="1671.68" cy="913.23" r="5.1" fill="#8a8a8a"/>
<circle cx="1703.23" cy="920.49" r="5.1" fill="#8a8a8a"/>
<circle cx="1719" cy="923.33" r="5.1" fill="#8a8a8a"/>
<circle cx="1735.09" cy="924.91" r="5.1" fill="#8a8a8a"/>
<circle cx="1766.32" cy="943.2" r="5.1" fill="#8a8a8a"/>
<circle cx="1814.28" cy="951.72" r="5.1" fill="#8a8a8a"/>
<circle cx="1877.69" cy="985.48" r="5.1" fill="#8a8a8a"/>
<circle cx="1555.89" cy="899.98" r="5.1" fill="#0a0af0"/>
<circle cx="1635.08" cy="909.76" r="5.1" fill="#0a0af0"/>
<circle cx="1683.03" cy="917.33" r="5.1" fill="#0a0af0"/>
<circle cx="1746.45" cy="929.01" r="5.1" fill="#0a0af0"/>
<circle cx="1778" cy="949.2" r="5.1" fill="#0a0af0"/>
<circle cx="1793.77" cy="950.78" r="5.1" fill="#0a0af0"/>
<circle cx="1825.32" cy="957.09" r="5.1" fill="#0a0af0"/>
<circle cx="1841.41" cy="964.97" r="5.1" fill="#0a0af0"/>
<circle cx="1857.19" cy="967.81" r="5.1" fill="#0a0af0"/>
<line x1="1445.15" y1="1042.9" x2="1445.15" y2="1053.94" stroke="#000" stroke-width="1.8"/>
<text transform="translate(1451.65 1058.23) rotate(-90)" x="-55.69" font-size="17.2" textLength="55.69" lengthAdjust="spacingAndGlyphs">HEPG2</text>
<line x1="1461.01" y1="1042.9" x2="1461.01" y2="1053.94" stroke="#000" stroke-width="1.8"/>
<text transform="translate(1467.51 1058.23) rotate(-90)" x="-48.41" font-size="17.2" textLength="48.41" lengthAdjust="spacingAndGlyphs">H1944</text>
<line x1="1476.87" y1="1042.9" x2="1476.87" y2="1053.94" stroke="#000" stroke-width="1.8"/>
<text transform="translate(1483.37 1058.23) rotate(-90)" x="-38.36" font-size="17.2" textLength="38.36" lengthAdjust="spacingAndGlyphs">A498</text>
<line x1="1492.72" y1="1042.9" x2="1492.72" y2="1053.94" stroke="#000" stroke-width="1.8"/>
<text transform="translate(1499.22 1058.23) rotate(-90)" x="-38.36" font-size="17.2" textLength="38.36" lengthAdjust="spacingAndGlyphs">A549</text>
<line x1="1508.58" y1="1042.9" x2="1508.58" y2="1053.94" stroke="#000" stroke-width="1.8"/>
<text transform="translate(1515.08 1058.23) rotate(-90)" x="-39.27" font-size="17.2" textLength="39.27" lengthAdjust="spacingAndGlyphs">H460</text>
<line x1="1524.44" y1="1042.9" x2="1524.44" y2="1053.94" stroke="#000" stroke-width="1.8"/>
<text transform="translate(1530.94 1058.23) rotate(-90)" x="-72.13" font-size="17.2" textLength="72.13" lengthAdjust="spacingAndGlyphs">HCC1395</text>
<line x1="1540.29" y1="1042.9" x2="1540.29" y2="1053.94" stroke="#000" stroke-width="1.8"/>
<text transform="translate(1546.79 1058.23) rotate(-90)" x="-42" font-size="17.2" textLength="42" lengthAdjust="spacingAndGlyphs">DLD1</text>
<line x1="1556.15" y1="1042.9" x2="1556.15" y2="1053.94" stroke="#000" stroke-width="1.8"/>
<text transform="translate(1562.65 1058.23) rotate(-90)" x="-72.13" font-size="17.2" textLength="72.13" lengthAdjust="spacingAndGlyphs">CCD18Lu</text>
<line x1="1572.01" y1="1042.9" x2="1572.01" y2="1053.94" stroke="#000" stroke-width="1.8"/>
<text transform="translate(1578.51 1058.23) rotate(-90)" x="-53.87" font-size="17.2" textLength="53.87" lengthAdjust="spacingAndGlyphs">ASPC1</text>
<line x1="1587.86" y1="1042.9" x2="1587.86" y2="1053.94" stroke="#000" stroke-width="1.8"/>
<text transform="translate(1594.36 1058.23) rotate(-90)" x="-51.13" font-size="17.2" textLength="51.13" lengthAdjust="spacingAndGlyphs">DU145</text>
<line x1="1603.72" y1="1042.9" x2="1603.72" y2="1053.94" stroke="#000" stroke-width="1.8"/>
<text transform="translate(1610.22 1058.23) rotate(-90)" x="-45.65" font-size="17.2" textLength="45.65" lengthAdjust="spacingAndGlyphs">LOVO</text>
<line x1="1619.58" y1="1042.9" x2="1619.58" y2="1053.94" stroke="#000" stroke-width="1.8"/>
<text transform="translate(1626.08 1058.23) rotate(-90)" x="-47.47" font-size="17.2" textLength="47.47" lengthAdjust="spacingAndGlyphs">CAKI1</text>
<line x1="1635.43" y1="1042.9" x2="1635.43" y2="1053.94" stroke="#000" stroke-width="1.8"/>
<text transform="translate(1641.93 1058.23) rotate(-90)" x="-60.27" font-size="17.2" textLength="60.27" lengthAdjust="spacingAndGlyphs">CCd8Lu</text>
<line x1="1651.29" y1="1042.9" x2="1651.29" y2="1053.94" stroke="#000" stroke-width="1.8"/>
<text transform="translate(1657.79 1058.23) rotate(-90)" x="-72.13" font-size="17.2" textLength="72.13" lengthAdjust="spacingAndGlyphs">HCC1086</text>
<line x1="1667.15" y1="1042.9" x2="1667.15" y2="1053.94" stroke="#000" stroke-width="1.8"/>
<text transform="translate(1673.65 1058.23) rotate(-90)" x="-52.05" font-size="17.2" textLength="52.05" lengthAdjust="spacingAndGlyphs">MB468</text>
<line x1="1683" y1="1042.9" x2="1683" y2="1053.94" stroke="#000" stroke-width="1.8"/>
<text transform="translate(1689.5 1058.23) rotate(-90)" x="-51.12" font-size="17.2" textLength="51.12" lengthAdjust="spacingAndGlyphs">THLE2</text>
<line x1="1698.86" y1="1042.9" x2="1698.86" y2="1053.94" stroke="#000" stroke-width="1.8"/>
<text transform="translate(1705.36 1058.23) rotate(-90)" x="-48.41" font-size="17.2" textLength="48.41" lengthAdjust="spacingAndGlyphs">H2170</text>
<line x1="1714.72" y1="1042.9" x2="1714.72" y2="1053.94" stroke="#000" stroke-width="1.8"/>
<text transform="translate(1721.22 1058.23) rotate(-90)" x="-81.85" font-size="17.2" textLength="81.85" lengthAdjust="spacingAndGlyphs">MIAPACA2</text>
<line x1="1730.57" y1="1042.9" x2="1730.57" y2="1053.94" stroke="#000" stroke-width="1.8"/>
<text transform="translate(1737.07 1058.23) rotate(-90)" x="-52.05" font-size="17.2" textLength="52.05" lengthAdjust="spacingAndGlyphs">MB231</text>
<line x1="1746.43" y1="1042.9" x2="1746.43" y2="1053.94" stroke="#000" stroke-width="1.8"/>
<text transform="translate(1752.93 1058.23) rotate(-90)" x="-19.17" font-size="17.2" textLength="19.17" lengthAdjust="spacingAndGlyphs">LF</text>
<line x1="1762.29" y1="1042.9" x2="1762.29" y2="1053.94" stroke="#000" stroke-width="1.8"/>
<text transform="translate(1768.79 1058.23) rotate(-90)" x="-70.91" font-size="17.2" textLength="70.91" lengthAdjust="spacingAndGlyphs">HCC1143</text>
<line x1="1778.14" y1="1042.9" x2="1778.14" y2="1053.94" stroke="#000" stroke-width="1.8"/>
<text transform="translate(1784.64 1058.23) rotate(-90)" x="-51.12" font-size="17.2" textLength="51.12" lengthAdjust="spacingAndGlyphs">THLE3</text>
<line x1="1794" y1="1042.9" x2="1794" y2="1053.94" stroke="#000" stroke-width="1.8"/>
<text transform="translate(1800.5 1058.23) rotate(-90)" x="-33.78" font-size="17.2" textLength="33.78" lengthAdjust="spacingAndGlyphs">LSM</text>
<line x1="1809.86" y1="1042.9" x2="1809.86" y2="1053.94" stroke="#000" stroke-width="1.8"/>
<text transform="translate(1816.36 1058.23) rotate(-90)" x="-39.27" font-size="17.2" textLength="39.27" lengthAdjust="spacingAndGlyphs">H838</text>
<line x1="1825.71" y1="1042.9" x2="1825.71" y2="1053.94" stroke="#000" stroke-width="1.8"/>
<text transform="translate(1832.21 1058.23) rotate(-90)" x="-74.86" font-size="17.2" textLength="74.86" lengthAdjust="spacingAndGlyphs">CCD18Co</text>
<line x1="1841.57" y1="1042.9" x2="1841.57" y2="1053.94" stroke="#000" stroke-width="1.8"/>
<text transform="translate(1848.07 1058.23) rotate(-90)" x="-64.81" font-size="17.2" textLength="64.81" lengthAdjust="spacingAndGlyphs">MCF10A</text>
<line x1="1857.43" y1="1042.9" x2="1857.43" y2="1053.94" stroke="#000" stroke-width="1.8"/>
<text transform="translate(1863.93 1058.23) rotate(-90)" x="-64.81" font-size="17.2" textLength="64.81" lengthAdjust="spacingAndGlyphs">MCF12A</text>
<line x1="1873.28" y1="1042.9" x2="1873.28" y2="1053.94" stroke="#000" stroke-width="1.8"/>
<text transform="translate(1879.78 1058.23) rotate(-90)" x="-58.44" font-size="17.2" textLength="58.44" lengthAdjust="spacingAndGlyphs">HT1080</text>
</g>
<g id="panel-e">
<text x="44.5" y="1269.8" font-size="33.5" font-weight="bold">e</text>
<text transform="translate(208.76 1348.2) rotate(-90)" font-size="22.4" fill="#000" textLength="67.59" lengthAdjust="spacingAndGlyphs">HEPG2</text>
<text transform="translate(257.76 1348.2) rotate(-90)" font-size="22.4" fill="#e8212b" textLength="58.75" lengthAdjust="spacingAndGlyphs">H1944</text>
<text transform="translate(303.46 1348.2) rotate(-90)" font-size="22.4" fill="#e8212b" textLength="46.56" lengthAdjust="spacingAndGlyphs">A549</text>
<text transform="translate(352.16 1348.2) rotate(-90)" font-size="22.4" fill="#e8212b" textLength="87.54" lengthAdjust="spacingAndGlyphs">HCC1395</text>
<text transform="translate(397.16 1348.2) rotate(-90)" font-size="22.4" fill="#e8212b" textLength="50.97" lengthAdjust="spacingAndGlyphs">DLD1</text>
<text transform="translate(445.76 1348.2) rotate(-90)" font-size="22.4" fill="#5a5a5a" textLength="64.26" lengthAdjust="spacingAndGlyphs">CAKI-1</text>
<text transform="translate(494.46 1348.2) rotate(-90)" font-size="22.4" fill="#5a5a5a" textLength="94.18" lengthAdjust="spacingAndGlyphs">HCC-1806</text>
<text transform="translate(543.06 1348.2) rotate(-90)" font-size="22.4" fill="#5a5a5a" textLength="107.47" lengthAdjust="spacingAndGlyphs">MDAMB231</text>
<text transform="translate(591.66 1348.2) rotate(-90)" font-size="22.4" fill="#5a5a5a" textLength="70.93" lengthAdjust="spacingAndGlyphs">HT1080</text>
<text transform="translate(637.76 1348.2) rotate(-90)" font-size="22.4" fill="#5a5a5a" textLength="47.66" lengthAdjust="spacingAndGlyphs">H838</text>
<text transform="translate(682.86 1348.2) rotate(-90)" font-size="22.4" fill="#5a5a5a" textLength="86.06" lengthAdjust="spacingAndGlyphs">HCC1143</text>
<text transform="translate(775.25 1349.2) rotate(-90)" font-size="21.8" fill="#e8212b" textLength="48.11" lengthAdjust="spacingAndGlyphs">A498</text>
<text transform="translate(825.85 1349.2) rotate(-90)" font-size="21.8" fill="#e8212b" textLength="49.25" lengthAdjust="spacingAndGlyphs">H460</text>
<text transform="translate(876.85 1349.2) rotate(-90)" font-size="21.8" fill="#e8212b" textLength="60.71" lengthAdjust="spacingAndGlyphs">H2170</text>
<text transform="translate(927.45 1349.2) rotate(-90)" font-size="21.8" fill="#e8212b" textLength="48.11" lengthAdjust="spacingAndGlyphs">A549</text>
<text transform="translate(978.15 1349.2) rotate(-90)" font-size="21.8" fill="#5a5a5a" textLength="67.56" lengthAdjust="spacingAndGlyphs">ASPC1</text>
<text transform="translate(1028.45 1349.2) rotate(-90)" font-size="21.8" fill="#5a5a5a" textLength="57.25" lengthAdjust="spacingAndGlyphs">LOVO</text>
<text transform="translate(1079.15 1349.2) rotate(-90)" font-size="21.8" fill="#5a5a5a" textLength="64.13" lengthAdjust="spacingAndGlyphs">DU145</text>
<text transform="translate(1130.05 1349.2) rotate(-90)" font-size="21.8" fill="#5a5a5a" textLength="111.06" lengthAdjust="spacingAndGlyphs">MDAMB468</text>
<text transform="translate(1180.75 1349.2) rotate(-90)" font-size="21.8" fill="#5a5a5a" textLength="102.66" lengthAdjust="spacingAndGlyphs">MIAPACA2</text>
<text transform="translate(1312.12 1349.4) rotate(-90)" font-size="22" fill="#e8212b" textLength="60.29" lengthAdjust="spacingAndGlyphs">H1944</text>
<text transform="translate(1357.89 1349.4) rotate(-90)" font-size="22" fill="#e8212b" textLength="47.79" lengthAdjust="spacingAndGlyphs">A549</text>
<text transform="translate(1403.66 1349.4) rotate(-90)" font-size="22" fill="#e8212b" textLength="52.31" lengthAdjust="spacingAndGlyphs">DLD1</text>
<text transform="translate(1449.43 1349.4) rotate(-90)" font-size="22" fill="#5a5a5a" textLength="59.13" lengthAdjust="spacingAndGlyphs">CAKI1</text>
<text transform="translate(1495.2 1349.4) rotate(-90)" font-size="22" fill="#1c1cd2" textLength="80.72" lengthAdjust="spacingAndGlyphs">MCF10A</text>
<text transform="translate(1540.97 1349.4) rotate(-90)" font-size="22" fill="#1c1cd2" textLength="80.72" lengthAdjust="spacingAndGlyphs">MCF12A</text>
<text transform="translate(1586.74 1349.4) rotate(-90)" font-size="22" fill="#1c1cd2" textLength="23.88" lengthAdjust="spacingAndGlyphs">LF</text>
<text transform="translate(1632.51 1349.4) rotate(-90)" font-size="22" fill="#1c1cd2" textLength="42.07" lengthAdjust="spacingAndGlyphs">LSM</text>
<text transform="translate(1678.28 1349.4) rotate(-90)" font-size="22" fill="#1c1cd2" textLength="93.24" lengthAdjust="spacingAndGlyphs">CCD18Co</text>
<text transform="translate(1724.05 1349.4) rotate(-90)" font-size="22" fill="#1c1cd2" textLength="63.68" lengthAdjust="spacingAndGlyphs">THLE2</text>
<text transform="translate(1769.82 1349.4) rotate(-90)" font-size="22" fill="#1c1cd2" textLength="63.68" lengthAdjust="spacingAndGlyphs">THLE3</text>
<text transform="translate(1815.59 1349.4) rotate(-90)" font-size="22" fill="#1c1cd2" textLength="89.84" lengthAdjust="spacingAndGlyphs">CCD18Lu</text>
<text transform="translate(1861.36 1349.4) rotate(-90)" font-size="22" fill="#1c1cd2" textLength="78.47" lengthAdjust="spacingAndGlyphs">CCD8Lu</text>
<text x="84.7" y="1377" font-size="24.6" textLength="72" lengthAdjust="spacingAndGlyphs">UGDH</text>
<text x="10.7" y="1406.5" font-size="24.6" textLength="146" lengthAdjust="spacingAndGlyphs">low exposure</text>
<text x="84.7" y="1448" font-size="24.6" textLength="72" lengthAdjust="spacingAndGlyphs">UGDH</text>
<text x="1" y="1477.9" font-size="24.6" textLength="155.7" lengthAdjust="spacingAndGlyphs">high exposure</text>
<text x="102" y="1526" font-size="24.6" textLength="54.7" lengthAdjust="spacingAndGlyphs">Actin</text>
<rect x="165.9" y="1355" width="531.7" height="55.6" fill="url(#g7)"/>
<g clip-path="url(#c6)">
<g filter="url(#b1_1)">
<rect x="181.13" y="1380.93" width="44.38" height="15.28" rx="13.32" ry="7.64" fill="#0a0a0a" opacity="0.97"/>
<rect x="231.28" y="1381.79" width="39.2" height="14.41" rx="11.76" ry="7.21" fill="#0a0a0a" opacity="0.97"/>
<rect x="280.27" y="1386.11" width="33.43" height="8.65" rx="10.03" ry="4.32" fill="#0a0a0a" opacity="0.9"/>
<rect x="326.39" y="1388.42" width="31.13" height="5.76" rx="9.34" ry="2.88" fill="#0a0a0a" opacity="0.22"/>
<rect x="371.35" y="1387.56" width="30.84" height="6.63" rx="9.25" ry="3.31" fill="#0a0a0a" opacity="0.33"/>
<rect x="418.04" y="1387.56" width="30.26" height="5.76" rx="9.08" ry="2.88" fill="#0a0a0a" opacity="0.1"/>
</g>
</g>
<rect x="166.4" y="1355.5" width="530.7" height="54.6" fill="none" stroke="#303030" stroke-width="1.4"/>
<rect x="165.9" y="1420.7" width="531.7" height="62.8" fill="url(#g9)"/>
<g clip-path="url(#c8)">
<g filter="url(#b2_2)">
<rect x="158.65" y="1415.51" width="118.17" height="68.59" rx="18" ry="14" fill="#0a0a0a"/>
</g>
<g filter="url(#b3)">
<rect x="271.05" y="1422.14" width="51.88" height="54.76" rx="25.94" ry="25.94" fill="#0a0a0a" opacity="0.45"/>
</g>
<g filter="url(#b2)">
<rect x="265.29" y="1433.67" width="61.1" height="34.59" rx="14" ry="14" fill="#0a0a0a"/>
<rect x="611.14" y="1451.83" width="30.26" height="14.41" rx="9.08" ry="7.21" fill="#0a0a0a" opacity="0.22"/>
<rect x="657.26" y="1451.83" width="37.47" height="6.34" rx="11.24" ry="3.17" fill="#0a0a0a" opacity="0.12"/>
</g>
<g filter="url(#b1_1)">
<rect x="328.12" y="1446.06" width="38.62" height="18.45" rx="11.59" ry="9.22" fill="#0a0a0a" opacity="0.95"/>
<rect x="373.37" y="1446.06" width="38.33" height="20.75" rx="11.5" ry="10.38" fill="#0a0a0a" opacity="0.95"/>
<rect x="419.48" y="1447.22" width="39.49" height="19.02" rx="11.85" ry="9.51" fill="#0a0a0a" opacity="0.95"/>
<rect x="467.61" y="1447.22" width="32.57" height="13.83" rx="9.77" ry="6.92" fill="#0a0a0a" opacity="0.9"/>
<rect x="481.45" y="1445.2" width="18.73" height="20.17" rx="9.37" ry="9.37" fill="#0a0a0a" opacity="0.55"/>
<rect x="521.8" y="1448.66" width="29.4" height="11.82" rx="8.82" ry="5.91" fill="#0a0a0a" opacity="0.85"/>
</g>
</g>
<rect x="166.4" y="1421.2" width="530.7" height="61.8" fill="none" stroke="#303030" stroke-width="1.4"/>
<rect x="165.9" y="1493.6" width="531.7" height="54.5" fill="#c2c2c2"/>
<g clip-path="url(#c10)">
<g filter="url(#b1_1)">
<rect x="184.59" y="1516.39" width="42.66" height="8.65" rx="12.8" ry="4.32" fill="#0a0a0a" opacity="0.95"/>
<rect x="234.16" y="1516.39" width="39.2" height="11.53" rx="11.76" ry="5.76" fill="#0a0a0a" opacity="0.95"/>
<rect x="281.14" y="1518.69" width="36.6" height="12.1" rx="10.98" ry="6.05" fill="#0a0a0a" opacity="0.95"/>
<rect x="325.81" y="1521" width="36.03" height="14.99" rx="10.81" ry="7.49" fill="#0a0a0a" opacity="0.95"/>
<rect x="371.35" y="1521.57" width="33.72" height="11.53" rx="10.12" ry="5.76" fill="#0a0a0a" opacity="0.95"/>
<rect x="418.04" y="1521" width="36.89" height="14.41" rx="11.07" ry="7.21" fill="#0a0a0a" opacity="0.95"/>
<rect x="463.58" y="1515.23" width="41.5" height="14.99" rx="12.45" ry="7.49" fill="#0a0a0a" opacity="0.97"/>
<rect x="511.71" y="1514.37" width="43.23" height="17.29" rx="12.97" ry="8.65" fill="#0a0a0a"/>
<rect x="562.15" y="1515.23" width="33.14" height="14.99" rx="9.94" ry="7.49" fill="#0a0a0a" opacity="0.97"/>
<rect x="603.94" y="1513.5" width="43.23" height="19.02" rx="12.97" ry="9.51" fill="#0a0a0a"/>
<rect x="652.93" y="1512.93" width="37.47" height="6.34" rx="11.24" ry="3.17" fill="#0a0a0a" opacity="0.9" transform="rotate(-5 671.67 1516.1)"/>
</g>
</g>
<rect x="166.4" y="1494.1" width="530.7" height="53.5" fill="none" stroke="#303030" stroke-width="1.4"/>
<rect x="744.5" y="1356.7" width="472.7" height="52.5" fill="#c6c6c6"/>
<g clip-path="url(#c11)">
<g filter="url(#b1_1)">
<rect x="756.89" y="1375.16" width="39.49" height="9.51" rx="11.85" ry="4.76" fill="#0a0a0a" opacity="0.95"/>
<rect x="807.04" y="1376.03" width="41.21" height="7.78" rx="12.36" ry="3.89" fill="#0a0a0a" opacity="0.95"/>
<rect x="859.78" y="1377.47" width="28.82" height="5.19" rx="8.65" ry="2.59" fill="#0a0a0a" opacity="0.2"/>
<rect x="901" y="1374.59" width="38.62" height="10.09" rx="11.59" ry="5.04" fill="#0a0a0a" opacity="0.97"/>
</g>
</g>
<rect x="745" y="1357.2" width="471.7" height="51.5" fill="none" stroke="#303030" stroke-width="1.4"/>
<rect x="744.5" y="1425.6" width="472.7" height="52.7" fill="#dfdfdf"/>
<g clip-path="url(#c12)">
<g filter="url(#b1_1)">
<rect x="757.47" y="1445.2" width="47.56" height="23.06" rx="14.27" ry="11.53" fill="#0a0a0a"/>
<rect x="807.04" y="1446.64" width="50.73" height="21.62" rx="15.22" ry="10.81" fill="#0a0a0a"/>
<rect x="860.65" y="1450.96" width="37.47" height="12.97" rx="11.24" ry="6.48" fill="#0a0a0a" opacity="0.95"/>
<rect x="901" y="1446.06" width="47.27" height="24.21" rx="14.18" ry="12.1" fill="#0a0a0a"/>
<rect x="956.91" y="1453.84" width="34.01" height="7.21" rx="10.2" ry="3.6" fill="#0a0a0a" opacity="0.6"/>
<rect x="1005.33" y="1452.98" width="31.7" height="6.63" rx="9.51" ry="3.31" fill="#0a0a0a" opacity="0.7"/>
<rect x="1054.33" y="1453.27" width="33.14" height="7.21" rx="9.94" ry="3.6" fill="#0a0a0a" opacity="0.75"/>
<rect x="1104.77" y="1447.22" width="34.59" height="6.63" rx="10.38" ry="3.31" fill="#0a0a0a" opacity="0.35"/>
<rect x="1156.64" y="1453.27" width="37.47" height="8.36" rx="11.24" ry="4.18" fill="#0a0a0a" opacity="0.8"/>
</g>
<g filter="url(#b2_5)">
<rect x="1156.64" y="1446.64" width="37.47" height="15.85" rx="11.24" ry="7.93" fill="#0a0a0a" opacity="0.3"/>
</g>
</g>
<rect x="745" y="1426.1" width="471.7" height="51.7" fill="none" stroke="#303030" stroke-width="1.4"/>
<rect x="744.5" y="1494.8" width="472.7" height="52.7" fill="#d0d0d0"/>
<g clip-path="url(#c13)">
<g filter="url(#b1_1)">
<rect x="763.23" y="1513.5" width="38.91" height="9.51" rx="11.67" ry="4.76" fill="#0a0a0a" opacity="0.95"/>
<rect x="812.8" y="1515.23" width="42.66" height="9.22" rx="12.8" ry="4.61" fill="#0a0a0a" opacity="0.95"/>
<rect x="863.53" y="1515.23" width="38.62" height="12.68" rx="11.59" ry="6.34" fill="#0a0a0a" opacity="0.97"/>
<rect x="907.34" y="1514.37" width="38.91" height="12.39" rx="11.67" ry="6.2" fill="#0a0a0a" opacity="0.97"/>
<rect x="955.76" y="1512.35" width="42.37" height="9.8" rx="12.71" ry="4.9" fill="#0a0a0a" opacity="0.97"/>
<rect x="1004.76" y="1512.35" width="42.37" height="13.55" rx="12.71" ry="6.77" fill="#0a0a0a"/>
<rect x="1052.02" y="1512.35" width="46.98" height="16.43" rx="14.09" ry="8.21" fill="#0a0a0a"/>
<rect x="1102.75" y="1512.35" width="49.57" height="17.29" rx="14.87" ry="8.65" fill="#0a0a0a"/>
<rect x="1152.32" y="1511.49" width="54.18" height="22.19" rx="16.26" ry="11.1" fill="#0a0a0a"/>
</g>
</g>
<rect x="745" y="1495.3" width="471.7" height="51.7" fill="none" stroke="#303030" stroke-width="1.4"/>
<rect x="1264.3" y="1357.8" width="626.6" height="50" fill="#dedede"/>
<g clip-path="url(#c14)">
<g filter="url(#b1_1)">
<rect x="1287.45" y="1381.02" width="35.67" height="9.63" rx="10.7" ry="4.81" fill="#0a0a0a" opacity="0.95"/>
<rect x="1335.6" y="1381.02" width="32.1" height="7.13" rx="9.63" ry="3.57" fill="#0a0a0a" opacity="0.15"/>
<rect x="1381.97" y="1382.8" width="32.1" height="6.42" rx="9.63" ry="3.21" fill="#0a0a0a" opacity="0.07"/>
</g>
</g>
<rect x="1264.8" y="1358.3" width="625.6" height="49" fill="none" stroke="#303030" stroke-width="1.4"/>
<rect x="1264.3" y="1426.7" width="626.6" height="50.3" fill="#cfcfcf"/>
<g clip-path="url(#c15)">
<g filter="url(#b1_1)">
<rect x="1280.32" y="1445.22" width="41.02" height="18.9" rx="12.3" ry="9.45" fill="#0a0a0a"/>
<rect x="1330.25" y="1448.07" width="37.45" height="11.41" rx="11.23" ry="5.71" fill="#0a0a0a" opacity="0.95"/>
<rect x="1380.18" y="1452.35" width="29.6" height="7.13" rx="8.88" ry="3.57" fill="#0a0a0a" opacity="0.55"/>
<rect x="1421.2" y="1449.85" width="30.32" height="9.63" rx="9.09" ry="4.81" fill="#0a0a0a" opacity="0.2"/>
<rect x="1563.87" y="1450.57" width="31.39" height="7.13" rx="9.42" ry="3.57" fill="#0a0a0a" opacity="0.18"/>
<rect x="1610.23" y="1450.57" width="33.88" height="6.42" rx="10.16" ry="3.21" fill="#0a0a0a" opacity="0.1"/>
<rect x="1702.96" y="1448.78" width="32.1" height="8.2" rx="9.63" ry="4.1" fill="#0a0a0a" opacity="0.2"/>
<rect x="1792.13" y="1445.93" width="27.82" height="6.42" rx="8.35" ry="3.21" fill="#0a0a0a" opacity="0.5"/>
<rect x="1833.15" y="1442.72" width="39.23" height="7.13" rx="11.77" ry="3.57" fill="#0a0a0a" opacity="0.55" transform="rotate(-5 1852.76 1446.29)"/>
</g>
</g>
<rect x="1264.8" y="1427.2" width="625.6" height="49.3" fill="none" stroke="#303030" stroke-width="1.4"/>
<rect x="1264.3" y="1490.5" width="626.6" height="61.7" fill="#c2c2c2"/>
<g clip-path="url(#c16)">
<g filter="url(#b1_1)">
<rect x="1289.23" y="1520.12" width="42.8" height="11.77" rx="12.84" ry="5.88" fill="#0a0a0a" opacity="0.97"/>
<rect x="1339.17" y="1519.4" width="31.39" height="9.63" rx="9.42" ry="4.81" fill="#0a0a0a" opacity="0.97"/>
<rect x="1381.97" y="1521.19" width="32.81" height="8.56" rx="9.84" ry="4.28" fill="#0a0a0a" opacity="0.97"/>
<rect x="1424.77" y="1519.4" width="30.32" height="8.92" rx="9.09" ry="4.46" fill="#0a0a0a" opacity="0.97"/>
<rect x="1462.93" y="1515.48" width="43.16" height="16.41" rx="12.95" ry="8.2" fill="#0a0a0a"/>
<rect x="1512.15" y="1515.48" width="42.8" height="17.12" rx="12.84" ry="8.56" fill="#0a0a0a"/>
<rect x="1561.01" y="1512.98" width="38.52" height="14.27" rx="11.56" ry="7.13" fill="#0a0a0a"/>
<rect x="1608.45" y="1511.2" width="46.37" height="17.12" rx="13.91" ry="8.56" fill="#0a0a0a"/>
<rect x="1660.88" y="1510.49" width="36.74" height="14.98" rx="11.02" ry="7.49" fill="#0a0a0a"/>
<rect x="1703.68" y="1512.98" width="38.52" height="14.27" rx="11.56" ry="7.13" fill="#0a0a0a"/>
<rect x="1746.48" y="1512.98" width="38.52" height="11.77" rx="11.56" ry="5.88" fill="#0a0a0a" opacity="0.97"/>
<rect x="1790.35" y="1509.42" width="44.58" height="15.34" rx="13.37" ry="7.67" fill="#0a0a0a"/>
<rect x="1836.71" y="1506.92" width="41.02" height="16.76" rx="12.3" ry="8.38" fill="#0a0a0a"/>
</g>
<g filter="url(#b1_5)">
<rect x="1824.23" y="1534.38" width="10.7" height="8.92" rx="4.46" ry="4.46" fill="#0a0a0a" opacity="0.4"/>
</g>
</g>
<rect x="1264.8" y="1491" width="625.6" height="60.7" fill="none" stroke="#303030" stroke-width="1.4"/>
<line x1="1892" y1="1384.58" x2="1905.55" y2="1384.58" stroke="#000" stroke-width="1.6"/>
<text x="1914.47" y="1395.78" font-size="21.5" textLength="22" lengthAdjust="spacingAndGlyphs">55</text>
<line x1="1894.85" y1="1453.42" x2="1909.12" y2="1453.42" stroke="#000" stroke-width="1.6"/>
<text x="1918.03" y="1464.62" font-size="21.5" textLength="22" lengthAdjust="spacingAndGlyphs">55</text>
<line x1="1894.85" y1="1541.52" x2="1909.12" y2="1541.52" stroke="#000" stroke-width="1.6"/>
<text x="1918.03" y="1552.72" font-size="21.5" textLength="22.5" lengthAdjust="spacingAndGlyphs">43</text>
</g>
<g id="panel-f">
<text x="45.5" y="1624.2" font-size="33.5" font-weight="bold">f</text>
<text x="86.45" y="1649.4" font-size="20.6" textLength="113.5" lengthAdjust="spacingAndGlyphs">Lung cancer</text>
<text x="112.35" y="1674.7" font-size="20.6" textLength="62.3" lengthAdjust="spacingAndGlyphs">patient</text>
<text x="252.25" y="1649.4" font-size="20.6" textLength="113.5" lengthAdjust="spacingAndGlyphs">Liver normal</text>
<text x="236" y="1674.7" font-size="20.6" textLength="145.2" lengthAdjust="spacingAndGlyphs">patient samples</text>
<line x1="114.6" y1="1693.8" x2="172.2" y2="1693.8" stroke="#000" stroke-width="1.8"/>
<line x1="197.4" y1="1693.8" x2="419.7" y2="1693.8" stroke="#000" stroke-width="1.8"/>
<text transform="translate(133.84 1766.5) rotate(-90)" font-size="21.5" fill="#e8212b" textLength="59.14" lengthAdjust="spacingAndGlyphs">1615T</text>
<text transform="translate(171.64 1766.5) rotate(-90)" font-size="21.5" fill="#e8212b" textLength="59.14" lengthAdjust="spacingAndGlyphs">1559T</text>
<text transform="translate(211.34 1766.5) rotate(-90)" font-size="21.5" fill="#4a90e2" textLength="61.46" lengthAdjust="spacingAndGlyphs">7933N</text>
<text transform="translate(254.54 1766.5) rotate(-90)" font-size="21.5" fill="#4a90e2" textLength="61.46" lengthAdjust="spacingAndGlyphs">8058N</text>
<text transform="translate(297.74 1766.5) rotate(-90)" font-size="21.5" fill="#4a90e2" textLength="61.46" lengthAdjust="spacingAndGlyphs">8104N</text>
<text transform="translate(340.94 1766.5) rotate(-90)" font-size="21.5" fill="#4a90e2" textLength="61.46" lengthAdjust="spacingAndGlyphs">8143N</text>
<text transform="translate(384.24 1766.5) rotate(-90)" font-size="21.5" fill="#4a90e2" textLength="61.46" lengthAdjust="spacingAndGlyphs">8226N</text>
<text transform="translate(424.54 1766.5) rotate(-90)" font-size="21.5" fill="#4a90e2" textLength="61.46" lengthAdjust="spacingAndGlyphs">8255N</text>
<text x="465.75" y="1647.6" font-size="20.6" textLength="113.5" lengthAdjust="spacingAndGlyphs">Lung cancer</text>
<text x="491.35" y="1672.9" font-size="20.6" textLength="62.3" lengthAdjust="spacingAndGlyphs">patient</text>
<text x="643.5" y="1647.6" font-size="20.6" textLength="124" lengthAdjust="spacingAndGlyphs">Kidney normal</text>
<text x="628.4" y="1672.9" font-size="20.6" textLength="145.2" lengthAdjust="spacingAndGlyphs">patient samples</text>
<line x1="493.6" y1="1691.6" x2="551.2" y2="1691.6" stroke="#000" stroke-width="1.8"/>
<line x1="589.8" y1="1691.6" x2="812.1" y2="1691.6" stroke="#000" stroke-width="1.8"/>
<text transform="translate(508.54 1765.8) rotate(-90)" font-size="21.5" fill="#e8212b" textLength="59.14" lengthAdjust="spacingAndGlyphs">1615T</text>
<text transform="translate(551.74 1765.8) rotate(-90)" font-size="21.5" fill="#e8212b" textLength="59.14" lengthAdjust="spacingAndGlyphs">1559T</text>
<text transform="translate(594.94 1765.8) rotate(-90)" font-size="21.5" fill="#4a90e2" textLength="61.46" lengthAdjust="spacingAndGlyphs">8097N</text>
<text transform="translate(638.24 1765.8) rotate(-90)" font-size="21.5" fill="#4a90e2" textLength="61.46" lengthAdjust="spacingAndGlyphs">8105N</text>
<text transform="translate(681.74 1765.8) rotate(-90)" font-size="21.5" fill="#4a90e2" textLength="61.46" lengthAdjust="spacingAndGlyphs">8169N</text>
<text transform="translate(725.14 1765.8) rotate(-90)" font-size="21.5" fill="#4a90e2" textLength="61.46" lengthAdjust="spacingAndGlyphs">8242N</text>
<text transform="translate(768.34 1765.8) rotate(-90)" font-size="21.5" fill="#4a90e2" textLength="61.46" lengthAdjust="spacingAndGlyphs">8243N</text>
<text transform="translate(811.94 1765.8) rotate(-90)" font-size="21.5" fill="#4a90e2" textLength="61.46" lengthAdjust="spacingAndGlyphs">8244N</text>
<text x="847.1" y="1647.6" font-size="20.6" textLength="113.8" lengthAdjust="spacingAndGlyphs">Lung cancer</text>
<text x="873.15" y="1672.9" font-size="20.6" textLength="62.3" lengthAdjust="spacingAndGlyphs">patient</text>
<text x="1012.05" y="1647.6" font-size="20.6" textLength="123.5" lengthAdjust="spacingAndGlyphs">Colon normal</text>
<text x="1001.2" y="1672.9" font-size="20.6" textLength="145.2" lengthAdjust="spacingAndGlyphs">patient samples</text>
<line x1="875.2" y1="1691.6" x2="933.5" y2="1691.6" stroke="#000" stroke-width="1.8"/>
<line x1="962.7" y1="1691.6" x2="1185" y2="1691.6" stroke="#000" stroke-width="1.8"/>
<text transform="translate(889.44 1763) rotate(-90)" font-size="21.5" fill="#e8212b" textLength="58.53" lengthAdjust="spacingAndGlyphs">1615T</text>
<text transform="translate(936.94 1763) rotate(-90)" font-size="21.5" fill="#e8212b" textLength="58.53" lengthAdjust="spacingAndGlyphs">1559T</text>
<text transform="translate(986.34 1763) rotate(-90)" font-size="21.5" fill="#4a90e2" textLength="49.34" lengthAdjust="spacingAndGlyphs">560N</text>
<text transform="translate(1030.64 1763) rotate(-90)" font-size="21.5" fill="#4a90e2" textLength="49.34" lengthAdjust="spacingAndGlyphs">478N</text>
<text transform="translate(1077.44 1763) rotate(-90)" font-size="21.5" fill="#4a90e2" textLength="49.34" lengthAdjust="spacingAndGlyphs">312N</text>
<text transform="translate(1125.34 1763) rotate(-90)" font-size="21.5" fill="#4a90e2" textLength="49.34" lengthAdjust="spacingAndGlyphs">406N</text>
<text transform="translate(1168.64 1763) rotate(-90)" font-size="21.5" fill="#4a90e2" textLength="49.34" lengthAdjust="spacingAndGlyphs">563N</text>
<text x="1" y="1806.2" font-size="24.6" textLength="72" lengthAdjust="spacingAndGlyphs">UGDH</text>
<text x="18" y="1860.2" font-size="24.6" textLength="55" lengthAdjust="spacingAndGlyphs">Actin</text>
<rect x="99.1" y="1776.1" width="354.6" height="46.3" fill="#9f9f9f"/>
<g clip-path="url(#c17)">
<g filter="url(#b1_1)">
<rect x="109.34" y="1790.88" width="37.06" height="12.35" rx="11.12" ry="6.18" fill="#0a0a0a" opacity="0.95"/>
<rect x="153.49" y="1791.81" width="28.41" height="12.35" rx="8.52" ry="6.18" fill="#0a0a0a" opacity="0.95"/>
<rect x="193.64" y="1796.44" width="23.78" height="5.25" rx="7.13" ry="2.62" fill="#0a0a0a" opacity="0.3"/>
<rect x="230.69" y="1796.44" width="30.88" height="7.72" rx="9.26" ry="3.86" fill="#0a0a0a" opacity="0.75"/>
<rect x="273.93" y="1796.44" width="22.23" height="5.25" rx="6.67" ry="2.62" fill="#0a0a0a" opacity="0.3"/>
<rect x="313.14" y="1797.67" width="26.25" height="4.94" rx="7.87" ry="2.47" fill="#0a0a0a" opacity="0.12"/>
<rect x="362.55" y="1797.67" width="7.72" height="4.32" rx="2.32" ry="2.16" fill="#0a0a0a" opacity="0.3"/>
<rect x="373.36" y="1802.61" width="6.79" height="3.71" rx="2.04" ry="1.85" fill="#0a0a0a" opacity="0.2"/>
<rect x="398.06" y="1803.85" width="37.06" height="7.1" rx="11.12" ry="3.55" fill="#0a0a0a" opacity="0.33"/>
</g>
</g>
<rect x="99.6" y="1776.6" width="353.6" height="45.3" fill="none" stroke="#303030" stroke-width="1.4"/>
<rect x="99.1" y="1834.1" width="354.6" height="45.7" fill="#919191"/>
<g clip-path="url(#c18)">
<g filter="url(#b1_1)">
<rect x="108.41" y="1855.11" width="47.25" height="8.34" rx="14.17" ry="4.17" fill="#0a0a0a" opacity="0.95"/>
<rect x="160.91" y="1854.18" width="31.81" height="7.72" rx="9.54" ry="3.86" fill="#0a0a0a" opacity="0.95"/>
<rect x="198.89" y="1855.11" width="32.42" height="7.72" rx="9.73" ry="3.86" fill="#0a0a0a" opacity="0.95"/>
<rect x="237.49" y="1855.11" width="33.35" height="9.26" rx="10.01" ry="4.63" fill="#0a0a0a" opacity="0.95"/>
<rect x="277.63" y="1854.18" width="33.35" height="8.34" rx="10.01" ry="4.17" fill="#0a0a0a" opacity="0.95"/>
<rect x="319.32" y="1855.11" width="33.97" height="8.34" rx="10.19" ry="4.17" fill="#0a0a0a" opacity="0.95"/>
<rect x="360.39" y="1855.73" width="32.12" height="8.65" rx="9.63" ry="4.32" fill="#0a0a0a" opacity="0.95"/>
<rect x="399.61" y="1856.35" width="47.86" height="10.19" rx="14.36" ry="5.1" fill="#0a0a0a" opacity="0.95"/>
</g>
</g>
<rect x="99.6" y="1834.6" width="353.6" height="44.7" fill="none" stroke="#303030" stroke-width="1.4"/>
<rect x="476.1" y="1777.6" width="354.5" height="44.8" fill="#979797"/>
<g clip-path="url(#c19)">
<g filter="url(#b1_8)">
<rect x="492.42" y="1783.16" width="32.42" height="38.6" rx="12" ry="16" fill="#0a0a0a"/>
<rect x="528.55" y="1786.25" width="38.91" height="35.51" rx="12" ry="14" fill="#0a0a0a"/>
<rect x="497.06" y="1806.32" width="23.16" height="20.07" rx="4" ry="4" fill="#0a0a0a"/>
<rect x="534.11" y="1806.32" width="27.79" height="20.07" rx="4" ry="4" fill="#0a0a0a"/>
</g>
<g filter="url(#b1_1)">
<rect x="581.98" y="1796.44" width="16.98" height="3.71" rx="5.1" ry="1.85" fill="#0a0a0a" opacity="0.08"/>
<rect x="619.03" y="1794.59" width="21.62" height="5.56" rx="6.48" ry="2.78" fill="#0a0a0a" opacity="0.15"/>
<rect x="660.72" y="1790.26" width="26.25" height="5.25" rx="7.87" ry="2.62" fill="#0a0a0a" opacity="0.25" transform="rotate(-6 673.84 1792.89)"/>
<rect x="700.86" y="1789.34" width="21.62" height="4.63" rx="6.48" ry="2.32" fill="#0a0a0a" opacity="0.15"/>
<rect x="739.46" y="1792.42" width="27.79" height="4.01" rx="8.34" ry="2.01" fill="#0a0a0a" opacity="0.12"/>
<rect x="784.24" y="1793.35" width="26.25" height="5.25" rx="7.87" ry="2.62" fill="#0a0a0a" opacity="0.18"/>
</g>
</g>
<rect x="476.6" y="1778.1" width="353.5" height="43.8" fill="none" stroke="#303030" stroke-width="1.4"/>
<rect x="476.1" y="1833.5" width="354.5" height="46.3" fill="#959595"/>
<g clip-path="url(#c20)">
<g filter="url(#b1_1)">
<rect x="493.35" y="1842.76" width="40.76" height="13.59" rx="12.23" ry="6.79" fill="#0a0a0a" opacity="0.97"/>
<rect x="538.74" y="1844.92" width="37.98" height="11.43" rx="11.39" ry="5.71" fill="#0a0a0a" opacity="0.97"/>
<rect x="580.43" y="1846.46" width="37.67" height="11.73" rx="11.3" ry="5.87" fill="#0a0a0a" opacity="0.97"/>
<rect x="623.66" y="1846.46" width="33.97" height="12.35" rx="10.19" ry="6.18" fill="#0a0a0a" opacity="0.97"/>
<rect x="662.26" y="1844.92" width="32.42" height="12.35" rx="9.73" ry="6.18" fill="#0a0a0a" opacity="0.97"/>
<rect x="702.41" y="1845.85" width="40.14" height="12.35" rx="12.04" ry="6.18" fill="#0a0a0a" opacity="0.97"/>
<rect x="748.73" y="1844.92" width="30.88" height="13.28" rx="9.26" ry="6.64" fill="#0a0a0a" opacity="0.97"/>
<rect x="788.87" y="1846.46" width="35.51" height="12.97" rx="10.65" ry="6.48" fill="#0a0a0a" opacity="0.97"/>
</g>
</g>
<rect x="476.6" y="1834" width="353.5" height="45.3" fill="none" stroke="#303030" stroke-width="1.4"/>
<rect x="842.2" y="1771.7" width="354.5" height="48.5" fill="#9f9f9f"/>
<g clip-path="url(#c21)">
<g filter="url(#b1_1)">
<rect x="859.53" y="1790.88" width="46.94" height="10.81" rx="14.08" ry="5.4" fill="#0a0a0a" opacity="0.95"/>
<rect x="918.2" y="1791.81" width="34.59" height="8.96" rx="10.38" ry="4.48" fill="#0a0a0a" opacity="0.95"/>
<rect x="965.14" y="1793.97" width="24.7" height="4.63" rx="7.41" ry="2.32" fill="#0a0a0a" opacity="0.15"/>
<rect x="1008.37" y="1795.51" width="27.79" height="4.01" rx="8.34" ry="2.01" fill="#0a0a0a" opacity="0.1"/>
<rect x="1063.95" y="1795.51" width="12.35" height="4.01" rx="3.71" ry="2.01" fill="#0a0a0a" opacity="0.06"/>
<rect x="1096.38" y="1797.06" width="30.88" height="4.63" rx="9.26" ry="2.32" fill="#0a0a0a" opacity="0.15"/>
</g>
</g>
<rect x="842.7" y="1772.2" width="353.5" height="47.5" fill="none" stroke="#303030" stroke-width="1.4"/>
<rect x="842.2" y="1831.6" width="354.5" height="48.2" fill="#9a9a9a"/>
<g clip-path="url(#c22)">
<g filter="url(#b1_1)">
<rect x="865.7" y="1852.02" width="43.85" height="12.97" rx="13.15" ry="6.48" fill="#0a0a0a"/>
<rect x="916.35" y="1852.64" width="37.06" height="12.97" rx="11.12" ry="6.48" fill="#0a0a0a"/>
<rect x="958.03" y="1851.1" width="40.45" height="14.51" rx="12.14" ry="7.26" fill="#0a0a0a"/>
<rect x="1003.74" y="1849.55" width="38.6" height="12.97" rx="11.58" ry="6.48" fill="#0a0a0a"/>
<rect x="1050.06" y="1846.46" width="38.6" height="12.97" rx="11.58" ry="6.48" fill="#0a0a0a"/>
<rect x="1096.99" y="1845.85" width="37.98" height="12.35" rx="11.39" ry="6.18" fill="#0a0a0a"/>
<rect x="1142.7" y="1845.85" width="40.14" height="13.59" rx="12.04" ry="6.79" fill="#0a0a0a"/>
</g>
</g>
<rect x="842.7" y="1832.1" width="353.5" height="47.2" fill="none" stroke="#303030" stroke-width="1.4"/>
<line x1="1198.28" y1="1799.53" x2="1214.65" y2="1799.53" stroke="#000" stroke-width="1.6"/>
<text x="1223.91" y="1809.41" font-size="21.5" textLength="22" lengthAdjust="spacingAndGlyphs">55</text>
<line x1="1198.28" y1="1869.62" x2="1214.65" y2="1869.62" stroke="#000" stroke-width="1.6"/>
<text x="1223.91" y="1880.43" font-size="21.5" textLength="22.5" lengthAdjust="spacingAndGlyphs">43</text>
</g>
</svg></body></html>
